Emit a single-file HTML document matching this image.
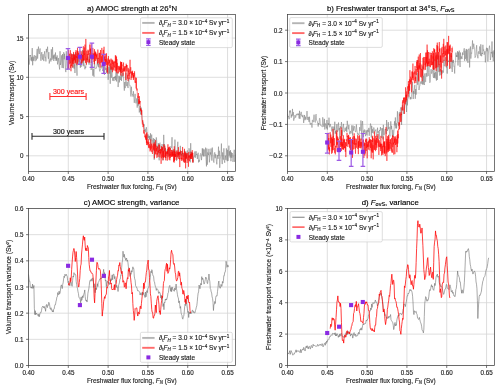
<!DOCTYPE html><html><head><meta charset="utf-8"><style>html,body{margin:0;padding:0;background:#fff;width:500px;height:389px;overflow:hidden} svg{will-change:transform}</style></head><body><svg width="500" height="389" viewBox="0 0 500 389" style="display:block;font-family:'Liberation Sans', sans-serif" stroke-linecap="butt">
<style>text{stroke-width:0.14}</style>
<rect width="500" height="389" fill="#fff"/>
<path d="M28.50 14.5V171.5 M68.31 14.5V171.5 M108.12 14.5V171.5 M147.92 14.5V171.5 M187.73 14.5V171.5 M227.54 14.5V171.5 M28.5 155.80H235.5 M28.5 116.55H235.5 M28.5 77.30H235.5 M28.5 38.05H235.5" stroke="#d6d6d6" stroke-width="0.8" fill="none"/>
<path d="M287.50 14.5V171.5 M327.31 14.5V171.5 M367.12 14.5V171.5 M406.92 14.5V171.5 M446.73 14.5V171.5 M486.54 14.5V171.5 M287.5 155.80H494.5 M287.5 124.40H494.5 M287.5 93.00H494.5 M287.5 61.60H494.5 M287.5 30.20H494.5" stroke="#d6d6d6" stroke-width="0.8" fill="none"/>
<path d="M28.50 208.5V365.5 M68.31 208.5V365.5 M108.12 208.5V365.5 M147.92 208.5V365.5 M187.73 208.5V365.5 M227.54 208.5V365.5 M28.5 365.50H235.5 M28.5 339.33H235.5 M28.5 313.17H235.5 M28.5 287.00H235.5 M28.5 260.83H235.5 M28.5 234.67H235.5 M28.5 208.50H235.5" stroke="#d6d6d6" stroke-width="0.8" fill="none"/>
<path d="M287.50 208.5V365.5 M327.31 208.5V365.5 M367.12 208.5V365.5 M406.92 208.5V365.5 M446.73 208.5V365.5 M486.54 208.5V365.5 M287.5 365.50H494.5 M287.5 334.10H494.5 M287.5 302.70H494.5 M287.5 271.30H494.5 M287.5 239.90H494.5 M287.5 208.50H494.5" stroke="#d6d6d6" stroke-width="0.8" fill="none"/>
<defs><clipPath id="clipa"><rect x="28.5" y="14.5" width="207.0" height="157.0"/></clipPath><clipPath id="clipb"><rect x="287.5" y="14.5" width="207.0" height="157.0"/></clipPath><clipPath id="clipc"><rect x="28.5" y="208.5" width="207.0" height="157.0"/></clipPath><clipPath id="clipd"><rect x="287.5" y="208.5" width="207.0" height="157.0"/></clipPath></defs>
<path clip-path="url(#clipa)" d="M28.50 58.17 28.91 64.74 29.33 64.01 29.74 55.25 30.16 56.25 30.57 55.03 30.99 60.49 31.40 57.28 31.82 61.27 32.23 48.09 32.65 65.31 33.06 56.82 33.48 60.70 33.89 56.49 34.31 55.19 34.72 59.42 35.14 61.20 35.55 55.90 35.97 56.09 36.38 60.32 36.80 52.28 37.21 48.90 37.63 58.65 38.04 53.10 38.46 46.59 38.87 52.22 39.29 53.95 39.70 50.12 40.12 48.50 40.53 56.37 40.94 60.78 41.36 54.84 41.77 52.11 42.19 57.93 42.60 59.61 43.02 54.23 43.43 58.59 43.85 61.14 44.26 54.53 44.68 51.27 45.09 57.34 45.51 56.88 45.92 61.44 46.34 48.91 46.75 52.26 47.17 51.39 47.58 46.69 48.00 56.62 48.41 58.82 48.83 52.14 49.24 63.52 49.66 60.58 50.07 59.61 50.49 58.47 50.90 61.50 51.32 49.31 51.73 59.81 52.15 59.81 52.56 47.12 52.97 58.57 53.39 55.41 53.80 61.04 54.22 54.51 54.63 56.85 55.05 58.89 55.46 52.51 55.88 60.76 56.29 57.17 56.71 60.66 57.12 55.37 57.54 64.38 57.95 62.00 58.37 57.95 58.78 62.63 59.20 66.31 59.61 69.48 60.03 51.22 60.44 64.97 60.86 62.90 61.27 60.07 61.69 55.28 62.10 67.91 62.52 54.06 62.93 64.12 63.35 68.16 63.76 52.20 64.18 59.34 64.59 53.80 65.01 62.34 65.42 69.33 65.83 72.13 66.25 51.22 66.66 57.84 67.08 64.87 67.49 69.69 67.91 63.32 68.32 56.92 68.74 62.68 69.15 60.98 69.57 59.97 69.98 57.08 70.40 63.27 70.81 62.86 71.23 60.68 71.64 59.99 72.06 54.17 72.47 58.59 72.89 67.92 73.30 60.26 73.72 53.42 74.13 68.70 74.55 64.30 74.96 73.00 75.38 61.78 75.79 58.92 76.21 53.52 76.62 68.79 77.04 75.66 77.45 57.04 77.86 58.02 78.28 64.88 78.69 57.06 79.11 60.17 79.52 59.75 79.94 62.76 80.35 67.75 80.77 61.87 81.18 66.83 81.60 59.49 82.01 63.63 82.43 50.09 82.84 53.90 83.26 66.28 83.67 58.68 84.09 65.14 84.50 64.95 84.92 69.27 85.33 66.58 85.75 67.84 86.16 61.77 86.58 58.68 86.99 58.64 87.41 60.12 87.82 56.73 88.24 60.07 88.65 62.71 89.07 64.74 89.48 61.63 89.89 53.05 90.31 63.37 90.72 65.15 91.14 70.01 91.55 67.36 91.97 60.78 92.38 60.48 92.80 75.66 93.21 68.90 93.63 74.95 94.04 76.73 94.46 60.65 94.87 67.41 95.29 67.95 95.70 68.65 96.12 68.69 96.53 66.96 96.95 66.94 97.36 57.86 97.78 65.35 98.19 62.29 98.61 67.23 99.02 64.10 99.44 70.21 99.85 71.46 100.27 68.88 100.68 69.21 101.10 68.28 101.51 65.60 101.92 67.45 102.34 65.92 102.75 71.05 103.17 69.30 103.58 72.69 104.00 62.54 104.41 74.93 104.83 66.22 105.24 66.67 105.66 69.89 106.07 68.19 106.49 73.12 106.90 68.71 107.32 66.32 107.73 67.83 108.15 79.81 108.56 73.23 108.98 66.97 109.39 73.62 109.81 65.46 110.22 83.77 110.64 66.10 111.05 77.11 111.47 77.66 111.88 67.14 112.30 76.76 112.71 80.71 113.13 78.07 113.54 77.17 113.95 81.07 114.37 77.05 114.78 78.19 115.20 75.92 115.61 80.18 116.03 71.99 116.44 81.45 116.86 74.74 117.27 71.83 117.69 79.79 118.10 87.06 118.52 83.37 118.93 75.73 119.35 82.38 119.76 76.47 120.18 78.46 120.59 79.87 121.01 67.41 121.42 80.96 121.84 74.79 122.25 76.82 122.67 73.00 123.08 73.06 123.50 76.36 123.91 85.95 124.33 90.64 124.74 82.03 125.16 88.17 125.57 81.33 125.98 72.97 126.40 84.18 126.81 86.15 127.23 81.99 127.64 86.22 128.06 88.05 128.47 80.97 128.89 78.19 129.30 85.15 129.72 85.62 130.13 85.31 130.55 92.54 130.96 96.50 131.38 86.74 131.79 92.89 132.21 94.77 132.62 94.47 133.04 96.69 133.45 91.23 133.87 96.84 134.28 102.84 134.70 98.59 135.11 93.87 135.53 99.72 135.94 103.34 136.36 100.93 136.77 98.36 137.19 107.64 137.60 97.81 138.02 105.72 138.43 104.76 138.84 101.57 139.26 112.45 139.67 110.52 140.09 106.09 140.50 114.46 140.92 111.90 141.33 107.63 141.75 113.84 142.16 119.02 142.58 121.93 142.99 121.56 143.41 122.56 143.82 125.68 144.24 124.49 144.65 131.36 145.07 128.75 145.48 130.35 145.90 132.35 146.31 127.16 146.73 129.55 147.14 139.31 147.56 135.70 147.97 134.33 148.39 137.81 148.80 135.60 149.22 139.36 149.63 136.06 150.05 140.34 150.46 133.28 150.87 145.65 151.29 138.55 151.70 134.57 152.12 140.70 152.53 140.56 152.95 143.25 153.36 138.19 153.78 145.29 154.19 159.78 154.61 138.96 155.02 146.49 155.44 143.80 155.85 146.20 156.27 137.38 156.68 140.48 157.10 147.93 157.51 145.83 157.93 153.70 158.34 143.07 158.76 147.32 159.17 160.33 159.59 143.22 160.00 142.71 160.42 146.96 160.83 147.04 161.25 151.39 161.66 148.11 162.08 144.02 162.49 148.75 162.90 160.43 163.32 154.05 163.73 134.87 164.15 147.57 164.56 144.20 164.98 151.46 165.39 147.79 165.81 157.96 166.22 153.31 166.64 153.24 167.05 150.01 167.47 149.05 167.88 150.99 168.30 155.68 168.71 152.17 169.13 148.06 169.54 155.96 169.96 150.91 170.37 149.74 170.79 146.45 171.20 147.65 171.62 147.44 172.03 137.23 172.45 155.61 172.86 153.57 173.28 149.96 173.69 156.12 174.11 153.33 174.52 153.14 174.93 139.60 175.35 150.49 175.76 154.29 176.18 159.59 176.59 160.82 177.01 158.96 177.42 146.64 177.84 141.78 178.25 155.22 178.67 152.73 179.08 157.36 179.50 152.24 179.91 154.03 180.33 145.82 180.74 155.27 181.16 151.03 181.57 154.93 181.99 155.52 182.40 152.80 182.82 154.96 183.23 153.43 183.65 157.23 184.06 156.05 184.48 151.04 184.89 150.91 185.31 162.25 185.72 153.39 186.14 158.74 186.55 155.91 186.96 151.34 187.38 150.51 187.79 154.78 188.21 155.51 188.62 157.30 189.04 148.25 189.45 151.57 189.87 154.06 190.28 162.35 190.70 143.20 191.11 156.84 191.53 152.15 191.94 156.93 192.36 152.51 192.77 156.74 193.19 162.61 193.60 156.76 194.02 157.17 194.43 156.90 194.85 151.46 195.26 157.78 195.68 154.14 196.09 151.23 196.51 155.02 196.92 154.12 197.34 158.93 197.75 155.07 198.17 152.72 198.58 162.43 198.99 160.18 199.41 161.57 199.82 158.37 200.24 154.89 200.65 153.40 201.07 154.11 201.48 160.13 201.90 156.07 202.31 148.30 202.73 155.38 203.14 148.67 203.56 156.43 203.97 149.75 204.39 149.48 204.80 156.28 205.22 155.34 205.63 147.60 206.05 159.44 206.46 166.40 206.88 148.55 207.29 164.77 207.71 152.49 208.12 153.46 208.54 155.04 208.95 148.84 209.37 162.35 209.78 158.41 210.20 152.31 210.61 154.64 211.03 148.54 211.44 154.29 211.85 160.61 212.27 147.56 212.68 153.85 213.10 156.72 213.51 161.16 213.93 162.65 214.34 153.75 214.76 152.35 215.17 158.22 215.59 154.21 216.00 154.47 216.42 161.33 216.83 164.34 217.25 157.31 217.66 155.05 218.08 158.82 218.49 146.67 218.91 155.91 219.32 150.75 219.74 167.82 220.15 159.56 220.57 156.70 220.98 155.04 221.40 143.54 221.81 159.53 222.23 164.08 222.64 152.39 223.06 159.39 223.47 159.58 223.88 148.32 224.30 160.64 224.71 162.73 225.13 157.13 225.54 155.69 225.96 159.91 226.37 148.34 226.79 156.46 227.20 161.24 227.62 149.82 228.03 160.94 228.45 153.92 228.86 145.64 229.28 155.47 229.69 151.16 230.11 157.59 230.52 150.16 230.94 161.24 231.35 152.32 231.77 157.78 232.18 153.04 232.60 154.39 233.01 161.95 233.43 157.07 233.84 154.03 234.26 149.75 234.67 161.80 235.09 159.66 235.50 154.37" stroke="#787878" stroke-width="0.5" fill="none" stroke-linejoin="round"/>
<path clip-path="url(#clipa)" d="M68.31 61.97 68.47 68.31 68.64 50.13 68.81 69.18 68.98 59.59 69.14 55.40 69.31 55.33 69.48 53.74 69.64 58.42 69.81 64.18 69.98 62.76 70.14 63.00 70.31 50.12 70.48 50.75 70.64 67.89 70.81 64.62 70.98 71.25 71.14 65.84 71.31 53.50 71.48 66.15 71.65 62.49 71.81 60.16 71.98 54.42 72.15 58.89 72.31 58.02 72.48 63.68 72.65 59.41 72.81 67.39 72.98 54.36 73.15 61.16 73.31 61.26 73.48 53.71 73.65 51.92 73.81 63.94 73.98 61.16 74.15 57.37 74.32 60.38 74.48 54.44 74.65 59.42 74.82 54.73 74.98 59.04 75.15 63.38 75.32 56.04 75.48 62.53 75.65 52.12 75.82 56.17 75.98 50.20 76.15 57.10 76.32 58.04 76.49 56.47 76.65 56.03 76.82 64.83 76.99 65.24 77.15 50.67 77.32 63.76 77.49 47.78 77.65 53.16 77.82 56.20 77.99 57.71 78.15 51.29 78.32 53.03 78.49 57.38 78.65 53.09 78.82 53.33 78.99 60.47 79.16 61.88 79.32 56.37 79.49 56.75 79.66 56.50 79.82 54.05 79.99 53.69 80.16 50.75 80.32 59.97 80.49 55.89 80.66 55.55 80.82 57.36 80.99 59.12 81.16 63.97 81.32 54.60 81.49 53.85 81.66 57.11 81.83 51.30 81.99 62.90 82.16 60.95 82.33 59.62 82.49 55.09 82.66 59.77 82.83 61.43 82.99 58.35 83.16 54.01 83.33 46.23 83.49 60.66 83.66 53.46 83.83 50.71 83.99 60.20 84.16 57.11 84.33 47.40 84.50 54.61 84.66 53.62 84.83 60.51 85.00 44.58 85.16 52.90 85.33 54.27 85.50 62.85 85.66 49.11 85.83 38.91 86.00 47.49 86.16 56.56 86.33 59.59 86.50 64.68 86.66 57.37 86.83 50.77 87.00 60.06 87.17 55.16 87.33 54.13 87.50 55.35 87.67 62.28 87.83 50.33 88.00 49.67 88.17 54.95 88.33 54.97 88.50 50.87 88.67 50.53 88.83 57.46 89.00 62.76 89.17 59.34 89.34 59.20 89.50 62.30 89.67 44.52 89.84 47.18 90.00 51.62 90.17 48.94 90.34 50.09 90.50 55.93 90.67 48.50 90.84 53.14 91.00 44.36 91.17 50.26 91.34 63.03 91.50 52.66 91.67 57.45 91.84 59.58 92.01 53.00 92.17 58.90 92.34 56.91 92.51 59.59 92.67 52.27 92.84 47.86 93.01 50.18 93.17 52.77 93.34 58.78 93.51 54.73 93.67 53.67 93.84 54.90 94.01 61.95 94.17 52.75 94.34 64.25 94.51 49.20 94.68 52.71 94.84 60.69 95.01 58.85 95.18 51.40 95.34 55.61 95.51 52.41 95.68 61.09 95.84 59.47 96.01 52.68 96.18 58.89 96.34 54.79 96.51 56.51 96.68 57.36 96.84 54.00 97.01 59.54 97.18 59.84 97.35 59.75 97.51 63.58 97.68 56.11 97.85 49.55 98.01 55.12 98.18 59.01 98.35 58.13 98.51 61.29 98.68 62.64 98.85 57.66 99.01 57.80 99.18 53.08 99.35 64.29 99.52 57.26 99.68 52.85 99.85 52.78 100.02 56.73 100.18 67.66 100.35 63.45 100.52 50.01 100.68 58.73 100.85 60.96 101.02 63.04 101.18 61.59 101.35 56.31 101.52 62.16 101.68 56.98 101.85 47.88 102.02 56.35 102.19 56.57 102.35 65.60 102.52 66.26 102.69 54.93 102.85 61.66 103.02 61.30 103.19 53.12 103.35 49.88 103.52 60.61 103.69 61.95 103.85 58.09 104.02 46.76 104.19 61.35 104.35 58.49 104.52 56.92 104.69 60.07 104.86 55.83 105.02 65.02 105.19 62.13 105.36 59.14 105.52 63.72 105.69 62.10 105.86 54.20 106.02 61.64 106.19 60.03 106.36 53.23 106.52 59.12 106.69 64.95 106.86 59.44 107.02 70.32 107.19 71.93 107.36 61.31 107.53 65.96 107.69 73.68 107.86 61.38 108.03 58.43 108.19 61.04 108.36 56.05 108.53 56.26 108.69 64.58 108.86 61.34 109.03 64.91 109.19 66.26 109.36 59.71 109.53 62.78 109.69 62.46 109.86 60.42 110.03 59.61 110.20 65.74 110.36 63.41 110.53 65.96 110.70 69.53 110.86 69.67 111.03 58.58 111.20 60.00 111.36 63.20 111.53 65.26 111.70 69.58 111.86 59.72 112.03 62.53 112.20 66.17 112.37 71.35 112.53 72.20 112.70 59.84 112.87 64.04 113.03 61.02 113.20 69.68 113.37 67.67 113.53 63.56 113.70 62.31 113.87 67.07 114.03 70.68 114.20 61.71 114.37 64.08 114.53 66.40 114.70 65.97 114.87 67.69 115.04 60.86 115.20 62.98 115.37 55.28 115.54 66.39 115.70 71.63 115.87 55.62 116.04 62.97 116.20 70.84 116.37 65.54 116.54 56.62 116.70 72.31 116.87 59.09 117.04 73.40 117.20 63.46 117.37 62.87 117.54 66.64 117.71 66.43 117.87 69.63 118.04 69.16 118.21 65.89 118.37 73.38 118.54 70.32 118.71 68.13 118.87 67.46 119.04 66.33 119.21 66.45 119.37 70.23 119.54 69.30 119.71 67.14 119.87 72.09 120.04 65.69 120.21 69.23 120.38 71.39 120.54 61.51 120.71 65.82 120.88 75.54 121.04 62.41 121.21 73.01 121.38 61.98 121.54 69.34 121.71 62.03 121.88 64.30 122.04 65.54 122.21 64.71 122.38 72.50 122.55 71.65 122.71 71.87 122.88 68.54 123.05 75.73 123.21 72.74 123.38 69.28 123.55 62.52 123.71 71.13 123.88 71.00 124.05 68.28 124.21 71.36 124.38 71.67 124.55 66.44 124.71 70.73 124.88 69.68 125.05 69.57 125.22 66.47 125.38 66.00 125.55 68.97 125.72 75.53 125.88 80.02 126.05 66.94 126.22 63.71 126.38 67.32 126.55 65.03 126.72 67.19 126.88 71.28 127.05 65.01 127.22 72.55 127.38 73.55 127.55 77.19 127.72 78.77 127.89 74.90 128.05 81.17 128.22 67.88 128.39 71.76 128.55 71.37 128.72 72.78 128.89 75.72 129.05 69.34 129.22 79.27 129.39 77.28 129.55 72.95 129.72 73.64 129.89 66.86 130.05 59.79 130.22 71.35 130.39 73.35 130.56 73.04 130.72 67.21 130.89 70.26 131.06 79.93 131.22 75.57 131.39 75.17 131.56 71.46 131.72 75.81 131.89 78.03 132.06 76.06 132.22 71.88 132.39 74.75 132.56 70.78 132.72 73.17 132.89 76.59 133.06 72.99 133.23 74.31 133.39 80.03 133.56 75.11 133.73 78.30 133.89 75.29 134.06 73.08 134.23 76.77 134.39 75.96 134.56 71.32 134.73 74.01 134.89 76.61 135.06 82.75 135.23 77.47 135.40 79.92 135.56 82.73 135.73 82.56 135.90 81.52 136.06 88.42 136.23 88.18 136.40 77.76 136.56 88.72 136.73 88.31 136.90 90.45 137.06 88.63 137.23 91.69 137.40 95.98 137.56 96.36 137.73 97.61 137.90 96.43 138.07 97.06 138.23 98.13 138.40 93.01 138.57 104.12 138.73 99.08 138.90 100.36 139.07 100.76 139.23 102.83 139.40 96.13 139.57 104.14 139.73 100.71 139.90 102.57 140.07 101.00 140.23 102.44 140.40 110.32 140.57 108.14 140.74 110.31 140.90 111.13 141.07 109.21 141.24 111.58 141.40 110.96 141.57 114.81 141.74 110.15 141.90 116.66 142.07 121.60 142.24 123.55 142.40 124.43 142.57 123.56 142.74 120.15 142.90 126.92 143.07 126.83 143.24 127.14 143.41 123.80 143.57 129.54 143.74 133.41 143.91 132.25 144.07 130.19 144.24 133.33 144.41 132.55 144.57 133.91 144.74 136.73 144.91 136.07 145.07 136.10 145.24 137.86 145.41 134.77 145.58 134.56 145.74 139.30 145.91 136.40 146.08 140.16 146.24 133.25 146.41 142.78 146.58 139.14 146.74 144.94 146.91 132.33 147.08 135.09 147.24 145.20 147.41 141.55 147.58 142.36 147.74 142.10 147.91 142.54 148.08 144.12 148.25 139.27 148.41 142.41 148.58 147.73 148.75 144.24 148.91 141.79 149.08 144.59 149.25 148.25 149.41 144.19 149.58 144.58 149.75 147.31 149.91 148.94 150.08 151.48 150.25 145.72 150.41 147.61 150.58 150.34 150.75 139.39 150.92 147.22 151.08 148.56 151.25 146.60 151.42 143.73 151.58 149.44 151.75 152.17 151.92 147.05 152.08 145.60 152.25 146.78 152.42 153.95 152.58 152.83 152.75 148.17 152.92 143.76 153.08 143.20 153.25 147.08 153.42 147.22 153.59 149.66 153.75 144.22 153.92 148.34 154.09 151.08 154.25 142.35 154.42 158.34 154.59 151.61 154.75 151.53 154.92 144.36 155.09 145.56 155.25 153.79 155.42 153.35 155.59 140.18 155.75 154.57 155.92 152.95 156.09 152.61 156.26 145.78 156.42 151.32 156.59 147.95 156.76 152.69 156.92 157.87 157.09 153.17 157.26 154.74 157.42 149.52 157.59 146.77 157.76 150.98 157.92 155.15 158.09 156.95 158.26 150.93 158.43 152.26 158.59 149.74 158.76 144.55 158.93 151.83 159.09 152.95 159.26 149.99 159.43 151.03 159.59 144.61 159.76 152.10 159.93 157.47 160.09 151.91 160.26 154.41 160.43 153.83 160.59 149.06 160.76 152.95 160.93 148.87 161.10 163.82 161.26 153.02 161.43 147.88 161.60 146.13 161.76 158.24 161.93 154.77 162.10 153.93 162.26 146.93 162.43 150.15 162.60 147.58 162.76 156.84 162.93 150.39 163.10 160.20 163.26 154.61 163.43 151.28 163.60 157.95 163.77 144.24 163.93 149.33 164.10 151.07 164.27 156.97 164.43 157.03 164.60 154.19 164.77 145.70 164.93 150.71 165.10 148.44 165.27 157.86 165.43 151.14 165.60 155.28 165.77 160.37 165.93 152.69 166.10 155.81 166.27 151.51 166.44 153.26 166.60 153.27 166.77 153.19 166.94 153.43 167.10 151.62 167.27 160.68 167.44 150.65 167.60 154.26 167.77 152.11 167.94 144.29 168.10 157.23 168.27 154.30 168.44 147.91 168.61 150.52 168.77 147.00 168.94 154.62 169.11 159.74 169.27 158.40 169.44 148.38 169.61 146.69 169.77 155.71 169.94 160.36 170.11 153.86 170.27 157.88 170.44 148.14 170.61 153.30 170.77 155.54 170.94 152.16 171.11 152.93 171.28 156.60 171.44 151.40 171.61 149.96 171.78 156.94 171.94 154.96 172.11 150.04 172.28 155.78 172.44 151.84 172.61 156.67 172.78 154.11 172.94 153.03 173.11 151.12 173.28 155.05 173.44 154.09 173.61 161.87 173.78 154.16 173.95 148.98 174.11 162.68 174.28 146.28 174.45 161.07 174.61 151.05 174.78 160.09 174.95 153.83 175.11 156.77 175.28 154.75 175.45 154.22 175.61 156.77 175.78 152.15 175.95 156.66 176.11 150.46 176.28 151.89 176.45 152.81 176.62 154.48 176.78 159.77 176.95 151.59 177.12 151.53 177.28 150.50 177.45 153.41 177.62 157.31 177.78 152.11 177.95 153.95 178.12 152.80 178.28 155.52 178.45 147.16 178.62 157.63 178.78 158.98 178.95 151.97 179.12 155.07 179.29 151.75 179.45 159.42 179.62 157.98 179.79 167.08 179.95 154.69 180.12 152.04 180.29 153.63 180.45 150.53 180.62 156.40 180.79 156.81 180.95 159.28 181.12 157.21 181.29 153.95 181.46 160.79 181.62 157.95 181.79 158.96 181.96 150.96 182.12 152.32 182.29 153.10 182.46 154.11 182.62 146.95 182.79 160.51 182.96 154.87 183.12 159.12 183.29 158.83 183.46 161.73 183.62 158.06 183.79 157.28 183.96 152.84 184.13 156.31 184.29 162.85 184.46 148.80 184.63 153.04 184.79 156.97 184.96 162.35 185.13 151.51 185.29 154.12 185.46 156.55 185.63 168.37 185.79 152.50 185.96 155.36 186.13 158.98 186.29 153.20 186.46 157.57 186.63 157.70 186.80 154.62 186.96 157.48 187.13 162.97 187.30 156.60 187.46 154.41 187.63 153.14 187.80 157.06 187.96 160.30 188.13 156.75 188.30 157.41 188.46 166.77 188.63 153.14 188.80 151.88 188.96 157.30 189.13 155.35 189.30 158.51 189.47 161.18 189.63 157.66 189.80 155.45 189.97 158.32 190.13 158.18 190.30 155.89 190.47 153.97 190.63 158.94 190.80 155.47 190.97 151.70 191.13 159.01 191.30 154.21 191.47 154.13 191.64 158.89 191.80 153.16 191.97 155.59 192.14 152.37 192.30 150.20 192.47 157.47 192.64 162.52 192.80 152.82 192.97 160.95 193.14 160.57 193.30 162.33" stroke="#ff0000" stroke-width="0.5" fill="none" stroke-linejoin="round"/>
<path clip-path="url(#clipb)" d="M287.50 113.98 287.91 117.22 288.33 116.38 288.74 116.41 289.16 119.20 289.57 110.68 289.99 112.51 290.40 110.45 290.82 114.24 291.23 117.72 291.65 114.64 292.06 116.32 292.48 108.90 292.89 115.38 293.31 112.15 293.72 120.65 294.14 117.94 294.55 118.21 294.97 115.10 295.38 117.30 295.80 117.52 296.21 114.39 296.63 113.97 297.04 115.27 297.46 113.75 297.87 113.85 298.29 114.93 298.70 113.54 299.12 118.50 299.53 110.82 299.94 118.85 300.36 114.14 300.77 114.47 301.19 111.86 301.60 115.94 302.02 115.66 302.43 117.20 302.85 114.84 303.26 117.02 303.68 122.93 304.09 118.23 304.51 114.97 304.92 120.24 305.34 116.68 305.75 119.31 306.17 119.53 306.58 116.23 307.00 111.05 307.41 116.67 307.83 119.95 308.24 116.85 308.66 119.86 309.07 121.92 309.49 116.72 309.90 123.13 310.32 124.67 310.73 122.91 311.15 123.38 311.56 123.30 311.97 127.60 312.39 120.35 312.80 119.85 313.22 122.16 313.63 116.86 314.05 114.66 314.46 117.24 314.88 121.95 315.29 122.47 315.71 115.27 316.12 114.14 316.54 120.07 316.95 120.73 317.37 121.43 317.78 124.28 318.20 126.55 318.61 123.02 319.03 124.64 319.44 118.42 319.86 118.29 320.27 123.79 320.69 125.60 321.10 126.02 321.52 125.70 321.93 126.62 322.35 126.91 322.76 117.29 323.18 121.37 323.59 126.13 324.01 126.86 324.42 118.89 324.83 129.48 325.25 123.38 325.66 124.32 326.08 126.43 326.49 128.43 326.91 120.01 327.32 129.67 327.74 126.22 328.15 123.00 328.57 125.10 328.98 117.64 329.40 123.88 329.81 127.33 330.23 123.90 330.64 125.57 331.06 126.43 331.47 127.35 331.89 131.39 332.30 127.33 332.72 126.53 333.13 129.88 333.55 136.22 333.96 126.60 334.38 130.11 334.79 121.72 335.21 133.58 335.62 130.86 336.04 133.64 336.45 128.05 336.86 124.11 337.28 131.99 337.69 131.50 338.11 124.96 338.52 122.54 338.94 130.42 339.35 127.94 339.77 139.35 340.18 126.23 340.60 126.62 341.01 128.38 341.43 122.07 341.84 125.29 342.26 135.73 342.67 128.49 343.09 126.58 343.50 123.90 343.92 131.57 344.33 131.94 344.75 130.34 345.16 127.72 345.58 130.64 345.99 131.00 346.41 126.66 346.82 132.10 347.24 120.81 347.65 124.28 348.07 128.41 348.48 129.27 348.89 124.93 349.31 131.19 349.72 134.27 350.14 131.80 350.55 130.91 350.97 133.48 351.38 131.76 351.80 125.34 352.21 129.32 352.63 135.63 353.04 125.50 353.46 130.58 353.87 128.73 354.29 126.64 354.70 126.21 355.12 130.93 355.53 131.84 355.95 131.82 356.36 124.43 356.78 129.32 357.19 132.01 357.61 134.56 358.02 133.41 358.44 134.09 358.85 135.23 359.27 134.08 359.68 127.13 360.10 130.85 360.51 127.58 360.92 120.48 361.34 123.46 361.75 139.54 362.17 125.87 362.58 121.07 363.00 128.16 363.41 137.17 363.83 130.48 364.24 132.43 364.66 129.53 365.07 130.34 365.49 136.15 365.90 134.14 366.32 130.36 366.73 134.57 367.15 135.37 367.56 129.81 367.98 131.92 368.39 131.87 368.81 127.89 369.22 135.76 369.64 130.07 370.05 128.12 370.47 123.54 370.88 125.32 371.30 137.45 371.71 125.88 372.13 132.71 372.54 129.25 372.95 133.09 373.37 133.49 373.78 127.49 374.20 129.61 374.61 131.33 375.03 131.40 375.44 130.78 375.86 129.54 376.27 133.69 376.69 136.71 377.10 133.32 377.52 127.70 377.93 132.70 378.35 131.24 378.76 133.01 379.18 139.12 379.59 130.05 380.01 130.95 380.42 127.05 380.84 129.65 381.25 128.38 381.67 137.95 382.08 132.17 382.50 128.25 382.91 139.33 383.33 124.82 383.74 134.52 384.16 135.18 384.57 133.18 384.98 129.42 385.40 129.97 385.81 128.98 386.23 133.99 386.64 120.03 387.06 128.12 387.47 131.06 387.89 127.74 388.30 122.15 388.72 129.18 389.13 126.85 389.55 133.80 389.96 136.46 390.38 130.45 390.79 121.35 391.21 129.18 391.62 125.82 392.04 133.05 392.45 136.90 392.87 129.83 393.28 136.98 393.70 133.82 394.11 129.27 394.53 121.26 394.94 125.46 395.36 117.44 395.77 128.33 396.19 123.28 396.60 128.45 397.02 122.59 397.43 111.25 397.84 122.79 398.26 123.39 398.67 126.15 399.09 112.74 399.50 112.19 399.92 116.18 400.33 109.86 400.75 107.37 401.16 107.80 401.58 124.87 401.99 108.17 402.41 105.32 402.82 107.16 403.24 108.43 403.65 113.89 404.07 111.27 404.48 109.59 404.90 104.96 405.31 104.74 405.73 100.00 406.14 94.87 406.56 112.01 406.97 98.65 407.39 105.36 407.80 97.85 408.22 98.25 408.63 97.17 409.05 90.14 409.46 96.06 409.87 97.68 410.29 99.36 410.70 97.03 411.12 99.17 411.53 94.79 411.95 92.62 412.36 81.73 412.78 88.62 413.19 99.03 413.61 90.88 414.02 93.85 414.44 87.90 414.85 84.84 415.27 98.77 415.68 89.14 416.10 94.66 416.51 88.88 416.93 83.83 417.34 72.68 417.76 84.81 418.17 75.43 418.59 71.48 419.00 90.02 419.42 86.84 419.83 86.05 420.25 82.43 420.66 81.60 421.08 83.77 421.49 81.93 421.90 81.11 422.32 84.44 422.73 66.42 423.15 84.56 423.56 75.76 423.98 83.62 424.39 85.03 424.81 73.49 425.22 82.17 425.64 81.73 426.05 73.04 426.47 73.61 426.88 76.78 427.30 63.39 427.71 72.89 428.13 76.08 428.54 72.37 428.96 65.77 429.37 72.30 429.79 82.74 430.20 81.50 430.62 73.26 431.03 69.25 431.45 73.47 431.86 73.47 432.28 69.42 432.69 71.15 433.11 76.33 433.52 77.89 433.93 58.83 434.35 77.78 434.76 72.89 435.18 78.40 435.59 71.66 436.01 74.06 436.42 80.62 436.84 54.55 437.25 79.99 437.67 71.95 438.08 60.45 438.50 55.51 438.91 72.10 439.33 64.37 439.74 75.64 440.16 71.02 440.57 68.87 440.99 75.06 441.40 70.36 441.82 73.29 442.23 73.54 442.65 70.33 443.06 72.66 443.48 72.33 443.89 59.79 444.31 65.67 444.72 66.21 445.14 64.43 445.55 57.24 445.96 62.70 446.38 67.53 446.79 66.37 447.21 73.62 447.62 61.18 448.04 61.85 448.45 60.73 448.87 61.86 449.28 59.90 449.70 52.35 450.11 64.66 450.53 68.01 450.94 68.45 451.36 55.62 451.77 60.51 452.19 71.99 452.60 60.59 453.02 62.99 453.43 59.92 453.85 66.34 454.26 65.92 454.68 73.51 455.09 62.82 455.51 62.33 455.92 52.58 456.34 56.98 456.75 55.09 457.17 57.03 457.58 51.17 457.99 65.51 458.41 52.23 458.82 59.66 459.24 50.62 459.65 59.68 460.07 67.03 460.48 52.53 460.90 59.16 461.31 56.46 461.73 58.28 462.14 58.86 462.56 52.54 462.97 54.97 463.39 52.39 463.80 50.82 464.22 48.27 464.63 60.78 465.05 50.71 465.46 58.77 465.88 58.05 466.29 48.94 466.71 60.75 467.12 49.57 467.54 58.15 467.95 62.90 468.37 50.16 468.78 48.83 469.20 48.67 469.61 67.48 470.03 51.80 470.44 46.53 470.85 58.58 471.27 52.70 471.68 53.45 472.10 47.72 472.51 40.44 472.93 49.10 473.34 47.16 473.76 43.70 474.17 46.74 474.59 47.46 475.00 57.66 475.42 57.00 475.83 55.80 476.25 49.55 476.66 45.20 477.08 54.27 477.49 55.14 477.91 58.26 478.32 52.11 478.74 51.42 479.15 53.93 479.57 46.55 479.98 47.19 480.40 55.65 480.81 44.33 481.23 51.22 481.64 56.24 482.06 52.94 482.47 54.01 482.88 44.81 483.30 50.57 483.71 49.62 484.13 54.73 484.54 53.57 484.96 51.19 485.37 62.39 485.79 54.43 486.20 49.59 486.62 47.75 487.03 51.28 487.45 48.19 487.86 61.43 488.28 55.17 488.69 50.03 489.11 48.07 489.52 45.67 489.94 50.52 490.35 60.09 490.77 57.37 491.18 52.12 491.60 53.38 492.01 41.48 492.43 57.28 492.84 51.50 493.26 61.15 493.67 51.93 494.09 50.19 494.50 54.48" stroke="#787878" stroke-width="0.5" fill="none" stroke-linejoin="round"/>
<path clip-path="url(#clipb)" d="M327.31 133.96 327.47 135.08 327.64 134.52 327.81 138.43 327.98 150.34 328.14 132.82 328.31 147.46 328.48 149.30 328.64 140.01 328.81 138.03 328.98 144.78 329.14 149.06 329.31 154.47 329.48 147.22 329.64 151.26 329.81 139.51 329.98 137.08 330.14 132.23 330.31 135.49 330.48 140.04 330.65 143.25 330.81 134.60 330.98 146.85 331.15 141.57 331.31 138.48 331.48 137.78 331.65 153.80 331.81 143.16 331.98 137.04 332.15 136.72 332.31 152.78 332.48 138.90 332.65 149.06 332.81 150.42 332.98 128.88 333.15 150.02 333.32 141.06 333.48 136.03 333.65 139.15 333.82 145.51 333.98 144.44 334.15 144.74 334.32 138.13 334.48 149.67 334.65 150.96 334.82 152.87 334.98 148.09 335.15 153.23 335.32 154.39 335.49 146.40 335.65 147.43 335.82 145.72 335.99 145.55 336.15 147.35 336.32 132.57 336.49 140.54 336.65 145.21 336.82 130.30 336.99 134.13 337.15 151.54 337.32 136.35 337.49 139.77 337.65 144.61 337.82 139.72 337.99 137.52 338.16 139.51 338.32 140.02 338.49 139.15 338.66 143.54 338.82 151.76 338.99 144.56 339.16 151.86 339.32 146.78 339.49 147.34 339.66 145.91 339.82 140.83 339.99 144.98 340.16 144.30 340.32 136.17 340.49 146.88 340.66 145.91 340.83 144.71 340.99 139.39 341.16 127.47 341.33 151.05 341.49 142.22 341.66 130.11 341.83 146.37 341.99 138.62 342.16 146.60 342.33 142.07 342.49 149.19 342.66 144.02 342.83 144.29 342.99 143.55 343.16 149.77 343.33 135.25 343.50 149.48 343.66 146.68 343.83 139.54 344.00 142.72 344.16 140.17 344.33 143.09 344.50 148.16 344.66 138.86 344.83 147.04 345.00 148.19 345.16 146.45 345.33 151.78 345.50 142.39 345.66 146.79 345.83 157.07 346.00 142.99 346.17 142.03 346.33 142.86 346.50 146.22 346.67 139.30 346.83 141.45 347.00 132.78 347.17 136.84 347.33 137.01 347.50 136.22 347.67 140.34 347.83 146.89 348.00 140.71 348.17 135.31 348.34 144.32 348.50 143.91 348.67 134.88 348.84 143.80 349.00 136.78 349.17 139.33 349.34 138.73 349.50 147.69 349.67 138.24 349.84 141.14 350.00 144.04 350.17 148.95 350.34 149.82 350.50 137.18 350.67 149.87 350.84 144.79 351.01 149.97 351.17 149.17 351.34 140.07 351.51 143.37 351.67 141.47 351.84 145.33 352.01 152.71 352.17 143.53 352.34 139.42 352.51 157.82 352.67 137.55 352.84 143.29 353.01 143.22 353.17 136.01 353.34 147.89 353.51 149.46 353.68 142.90 353.84 143.71 354.01 142.46 354.18 133.29 354.34 144.83 354.51 136.30 354.68 137.97 354.84 145.77 355.01 148.82 355.18 138.53 355.34 150.09 355.51 153.71 355.68 144.55 355.84 143.15 356.01 144.77 356.18 141.32 356.35 138.74 356.51 147.37 356.68 147.81 356.85 140.82 357.01 141.39 357.18 140.16 357.35 139.73 357.51 138.21 357.68 135.13 357.85 148.99 358.01 141.81 358.18 144.23 358.35 154.13 358.52 141.08 358.68 147.19 358.85 136.15 359.02 140.32 359.18 147.90 359.35 142.43 359.52 135.74 359.68 135.17 359.85 145.89 360.02 138.64 360.18 147.87 360.35 145.56 360.52 142.18 360.68 143.64 360.85 148.33 361.02 144.24 361.19 138.66 361.35 145.98 361.52 142.09 361.69 142.80 361.85 147.38 362.02 146.02 362.19 149.95 362.35 143.13 362.52 141.61 362.69 142.29 362.85 146.38 363.02 139.69 363.19 142.23 363.35 139.51 363.52 139.91 363.69 143.32 363.86 158.01 364.02 142.21 364.19 145.85 364.36 144.94 364.52 143.44 364.69 144.62 364.86 155.50 365.02 143.01 365.19 153.53 365.36 148.17 365.52 139.65 365.69 140.91 365.86 141.98 366.02 138.48 366.19 151.06 366.36 146.94 366.53 147.61 366.69 138.89 366.86 147.29 367.03 141.68 367.19 158.35 367.36 144.22 367.53 146.34 367.69 147.09 367.86 142.12 368.03 142.61 368.19 142.61 368.36 149.61 368.53 140.76 368.69 143.97 368.86 146.72 369.03 142.60 369.20 137.26 369.36 138.25 369.53 142.61 369.70 139.54 369.86 150.36 370.03 145.06 370.20 144.83 370.36 139.33 370.53 147.90 370.70 142.97 370.86 139.64 371.03 141.39 371.20 158.27 371.37 141.55 371.53 140.10 371.70 151.39 371.87 149.07 372.03 143.35 372.20 152.64 372.37 136.76 372.53 142.26 372.70 135.77 372.87 152.56 373.03 145.16 373.20 159.37 373.37 147.48 373.53 147.56 373.70 138.59 373.87 138.28 374.04 142.13 374.20 149.86 374.37 138.98 374.54 131.49 374.70 149.48 374.87 149.81 375.04 139.57 375.20 147.12 375.37 150.89 375.54 151.16 375.70 135.85 375.87 144.94 376.04 140.25 376.20 149.92 376.37 145.04 376.54 137.75 376.71 145.06 376.87 147.78 377.04 135.78 377.21 136.85 377.37 140.61 377.54 142.68 377.71 141.19 377.87 134.10 378.04 135.57 378.21 144.12 378.37 146.65 378.54 139.35 378.71 145.28 378.87 154.91 379.04 143.19 379.21 141.91 379.38 140.44 379.54 147.07 379.71 145.74 379.88 145.89 380.04 142.40 380.21 146.83 380.38 146.87 380.54 143.76 380.71 151.09 380.88 135.86 381.04 148.63 381.21 143.94 381.38 149.39 381.55 155.38 381.71 144.99 381.88 143.66 382.05 144.63 382.21 152.56 382.38 153.47 382.55 145.75 382.71 148.47 382.88 154.98 383.05 147.91 383.21 136.44 383.38 140.31 383.55 142.19 383.71 147.16 383.88 141.78 384.05 152.81 384.22 142.30 384.38 153.86 384.55 141.31 384.72 152.63 384.88 146.12 385.05 153.11 385.22 156.17 385.38 155.01 385.55 151.03 385.72 140.92 385.88 140.57 386.05 127.17 386.22 153.54 386.38 152.38 386.55 151.03 386.72 138.82 386.89 160.91 387.05 141.46 387.22 150.22 387.39 136.11 387.55 141.83 387.72 152.30 387.89 151.19 388.05 139.19 388.22 144.86 388.39 151.72 388.55 134.87 388.72 149.71 388.89 136.51 389.05 148.91 389.22 143.83 389.39 150.90 389.56 142.33 389.72 143.23 389.89 143.19 390.06 139.69 390.22 143.44 390.39 139.14 390.56 141.63 390.72 148.63 390.89 142.81 391.06 150.71 391.22 148.54 391.39 149.16 391.56 137.85 391.72 146.65 391.89 152.44 392.06 149.32 392.23 151.08 392.39 152.68 392.56 135.29 392.73 147.12 392.89 146.92 393.06 142.60 393.23 136.15 393.39 144.41 393.56 142.59 393.73 154.59 393.89 150.85 394.06 140.94 394.23 137.19 394.40 138.30 394.56 142.78 394.73 138.86 394.90 154.24 395.06 136.07 395.23 142.29 395.40 143.55 395.56 144.99 395.73 137.48 395.90 141.31 396.06 143.47 396.23 144.19 396.40 139.22 396.56 140.66 396.73 143.38 396.90 152.19 397.07 135.34 397.23 143.87 397.40 147.04 397.57 130.55 397.73 143.60 397.90 142.03 398.07 134.01 398.23 137.10 398.40 138.26 398.57 129.01 398.73 129.51 398.90 122.02 399.07 122.53 399.23 124.78 399.40 122.71 399.57 129.19 399.74 119.48 399.90 113.72 400.07 122.11 400.24 121.71 400.40 118.78 400.57 115.78 400.74 112.22 400.90 112.27 401.07 121.71 401.24 117.72 401.40 113.99 401.57 114.90 401.74 110.72 401.90 107.37 402.07 108.92 402.24 110.32 402.41 102.07 402.57 102.39 402.74 100.35 402.91 105.95 403.07 110.55 403.24 100.31 403.41 100.64 403.57 97.66 403.74 102.73 403.91 98.44 404.07 98.69 404.24 97.49 404.41 113.95 404.58 101.27 404.74 97.67 404.91 98.04 405.08 104.25 405.24 104.15 405.41 99.79 405.58 87.30 405.74 102.28 405.91 102.09 406.08 99.89 406.24 97.61 406.41 94.81 406.58 100.26 406.74 91.41 406.91 98.13 407.08 89.10 407.25 88.95 407.41 87.95 407.58 86.63 407.75 86.33 407.91 92.68 408.08 96.70 408.25 83.43 408.41 81.07 408.58 93.78 408.75 84.26 408.91 87.37 409.08 86.23 409.25 90.24 409.41 79.33 409.58 90.83 409.75 88.39 409.92 70.19 410.08 81.87 410.25 80.14 410.42 84.25 410.58 81.19 410.75 76.65 410.92 78.65 411.08 82.39 411.25 80.13 411.42 78.53 411.58 92.32 411.75 81.80 411.92 71.52 412.08 78.62 412.25 79.67 412.42 71.57 412.59 78.01 412.75 72.07 412.92 63.57 413.09 78.81 413.25 80.34 413.42 80.08 413.59 75.28 413.75 72.40 413.92 77.21 414.09 78.17 414.25 80.95 414.42 83.31 414.59 79.92 414.75 71.34 414.92 74.32 415.09 65.96 415.26 78.62 415.42 77.61 415.59 81.13 415.76 76.68 415.92 83.08 416.09 69.12 416.26 75.17 416.42 71.45 416.59 71.42 416.76 61.78 416.92 67.80 417.09 60.00 417.26 69.90 417.43 67.45 417.59 72.30 417.76 60.17 417.93 67.93 418.09 69.38 418.26 56.63 418.43 80.58 418.59 73.32 418.76 65.49 418.93 81.59 419.09 78.15 419.26 54.47 419.43 67.67 419.59 65.50 419.76 69.44 419.93 63.14 420.10 67.23 420.26 69.15 420.43 53.07 420.60 69.10 420.76 76.88 420.93 68.81 421.10 75.01 421.26 77.58 421.43 69.40 421.60 69.90 421.76 69.85 421.93 64.55 422.10 81.22 422.26 69.69 422.43 70.28 422.60 72.59 422.77 75.73 422.93 57.84 423.10 59.77 423.27 66.92 423.43 69.14 423.60 58.12 423.77 56.93 423.93 70.20 424.10 69.74 424.27 63.22 424.43 63.02 424.60 60.65 424.77 57.06 424.93 58.74 425.10 65.14 425.27 62.72 425.44 69.81 425.60 55.17 425.77 52.58 425.94 66.75 426.10 57.00 426.27 60.78 426.44 62.78 426.60 54.42 426.77 52.48 426.94 63.75 427.10 44.58 427.27 65.63 427.44 50.18 427.61 66.45 427.77 63.13 427.94 62.48 428.11 64.02 428.27 61.71 428.44 51.97 428.61 65.96 428.77 61.44 428.94 63.52 429.11 59.65 429.27 58.76 429.44 66.27 429.61 66.32 429.77 61.72 429.94 52.43 430.11 54.09 430.28 53.56 430.44 67.20 430.61 63.24 430.78 60.40 430.94 58.99 431.11 55.14 431.28 65.12 431.44 53.09 431.61 54.28 431.78 65.19 431.94 63.77 432.11 59.21 432.28 51.40 432.44 51.35 432.61 65.00 432.78 61.89 432.95 69.07 433.11 56.31 433.28 58.79 433.45 53.13 433.61 69.95 433.78 48.16 433.95 63.10 434.11 69.53 434.28 52.70 434.45 49.46 434.61 52.18 434.78 49.39 434.95 60.91 435.11 57.95 435.28 52.53 435.45 56.56 435.62 68.27 435.78 56.62 435.95 55.59 436.12 70.92 436.28 52.19 436.45 54.90 436.62 67.59 436.78 58.04 436.95 45.10 437.12 51.87 437.28 42.61 437.45 53.12 437.62 59.43 437.78 46.30 437.95 67.31 438.12 65.43 438.29 62.30 438.45 52.02 438.62 57.01 438.79 60.44 438.95 63.06 439.12 65.14 439.29 42.09 439.45 51.70 439.62 48.61 439.79 54.03 439.95 57.63 440.12 71.55 440.29 55.44 440.46 62.10 440.62 56.68 440.79 55.63 440.96 67.55 441.12 48.23 441.29 60.21 441.46 69.57 441.62 78.64 441.79 51.98 441.96 49.09 442.12 46.82 442.29 52.52 442.46 55.26 442.62 55.32 442.79 62.85 442.96 53.02 443.13 57.28 443.29 43.82 443.46 50.52 443.63 53.94 443.79 38.82 443.96 55.72 444.13 60.89 444.29 55.37 444.46 56.29 444.63 54.75 444.79 46.58 444.96 55.03 445.13 50.83 445.29 55.29 445.46 55.11 445.63 55.40 445.80 45.50 445.96 54.11 446.13 66.50 446.30 60.89 446.46 52.82 446.63 49.35 446.80 61.15 446.96 54.27 447.13 42.00 447.30 51.11 447.46 65.77 447.63 42.42 447.80 54.48 447.96 48.76 448.13 53.47 448.30 51.00 448.47 47.72 448.63 35.89 448.80 52.21 448.97 53.88 449.13 52.68 449.30 46.15 449.47 49.23 449.63 68.94 449.80 45.59 449.97 51.12 450.13 44.64 450.30 51.77 450.47 55.04 450.64 61.77 450.80 54.81 450.97 53.26 451.14 55.75 451.30 57.16 451.47 52.92 451.64 53.00 451.80 61.73 451.97 48.07 452.14 52.47 452.30 46.55" stroke="#ff0000" stroke-width="0.5" fill="none" stroke-linejoin="round"/>
<path clip-path="url(#clipc)" d="M28.50 274.30 28.95 278.10 29.40 281.34 29.85 281.20 30.30 286.89 30.75 287.63 31.20 288.20 31.65 286.94 32.10 288.15 32.55 284.09 33.00 288.51 33.45 287.96 33.90 285.48 34.35 308.26 34.80 314.58 35.25 310.73 35.70 314.85 36.15 313.07 36.60 313.96 37.05 313.64 37.50 314.25 37.95 315.68 38.40 316.28 38.85 313.93 39.30 316.76 39.75 314.58 40.20 312.74 40.65 312.40 41.10 312.55 41.55 310.34 42.00 307.58 42.45 306.80 42.90 306.00 43.35 307.11 43.80 307.91 44.25 306.44 44.70 308.37 45.15 308.45 45.60 311.29 46.05 305.67 46.50 304.53 46.95 307.01 47.40 307.57 47.85 304.81 48.30 305.36 48.75 302.25 49.20 303.05 49.65 304.95 50.10 308.64 50.55 309.33 51.00 307.74 51.45 310.22 51.90 309.66 52.35 311.74 52.80 310.64 53.25 312.05 53.70 309.28 54.15 308.94 54.60 306.31 55.05 304.46 55.50 304.55 55.95 301.71 56.40 300.16 56.85 297.20 57.30 296.84 57.75 292.60 58.20 294.58 58.65 294.76 59.10 291.14 59.55 293.88 60.00 293.57 60.45 290.01 60.90 286.08 61.35 284.86 61.80 286.63 62.25 288.60 62.70 284.46 63.15 282.76 63.60 278.96 64.05 276.22 64.50 277.52 64.95 274.26 65.40 275.21 65.85 275.80 66.30 274.30 66.75 275.53 67.20 276.26 67.65 280.52 68.10 282.61 68.55 281.43 69.00 284.93 69.45 284.83 69.90 285.72 70.35 283.56 70.80 281.98 71.25 282.30 71.70 285.28 72.15 286.30 72.60 280.75 73.05 276.03 73.50 277.10 73.95 272.65 74.40 273.88 74.85 274.72 75.30 274.30 75.75 274.83 76.20 281.52 76.65 284.62 77.10 287.22 77.55 288.83 78.00 291.81 78.45 293.49 78.90 297.24 79.35 297.93 79.80 298.11 80.25 299.85 80.70 302.91 81.15 296.90 81.60 300.52 82.05 299.89 82.50 295.80 82.95 297.74 83.40 296.21 83.85 294.00 84.30 292.74 84.75 289.93 85.20 296.55 85.65 299.99 86.10 300.97 86.55 299.99 87.00 302.06 87.45 298.85 87.90 293.40 88.35 291.01 88.80 289.04 89.25 285.53 89.70 281.36 90.15 280.40 90.60 281.25 91.05 279.35 91.50 278.82 91.95 281.14 92.40 278.31 92.85 277.87 93.30 281.23 93.75 287.36 94.20 283.79 94.65 291.14 95.10 292.74 95.55 289.43 96.00 287.86 96.45 289.68 96.90 286.35 97.35 283.72 97.80 286.60 98.25 282.43 98.70 281.85 99.15 280.67 99.60 279.42 100.05 279.51 100.50 277.98 100.95 278.87 101.40 278.56 101.85 277.26 102.30 276.10 102.75 275.28 103.20 272.64 103.65 269.32 104.10 274.63 104.55 272.59 105.00 276.80 105.45 281.12 105.90 280.20 106.35 286.79 106.80 282.23 107.25 281.20 107.70 282.31 108.15 282.12 108.60 283.24 109.05 282.82 109.50 284.49 109.95 281.65 110.40 281.52 110.85 278.73 111.30 280.61 111.75 277.64 112.20 274.84 112.65 279.83 113.10 274.95 113.55 274.15 114.00 274.32 114.45 278.66 114.90 276.48 115.35 280.10 115.80 283.47 116.25 287.43 116.70 285.23 117.15 287.49 117.60 287.51 118.05 291.49 118.50 285.95 118.95 284.29 119.40 282.86 119.85 279.19 120.30 278.98 120.75 274.98 121.20 275.32 121.65 267.61 122.10 262.75 122.55 260.26 123.00 251.23 123.45 255.71 123.90 257.14 124.35 254.32 124.80 258.10 125.25 257.92 125.70 260.35 126.15 259.32 126.60 258.12 127.05 261.26 127.50 260.22 127.95 262.65 128.40 266.81 128.85 269.98 129.30 271.71 129.75 270.86 130.20 276.41 130.65 273.27 131.10 274.29 131.55 270.66 132.00 272.12 132.45 269.12 132.90 266.82 133.35 268.65 133.80 268.52 134.25 276.12 134.70 278.80 135.15 280.16 135.60 285.72 136.05 286.48 136.50 287.46 136.95 287.55 137.40 290.05 137.85 290.99 138.30 290.66 138.75 291.27 139.20 291.44 139.65 292.06 140.10 295.04 140.55 293.87 141.00 292.80 141.45 294.76 141.90 295.32 142.35 291.93 142.80 294.43 143.25 294.44 143.70 292.50 144.15 295.52 144.60 295.44 145.05 297.52 145.50 292.10 145.95 296.90 146.40 295.17 146.85 290.67 147.30 292.61 147.75 288.89 148.20 287.92 148.65 287.43 149.10 285.60 149.55 280.87 150.00 279.10 150.45 276.00 150.90 271.27 151.35 272.77 151.80 269.67 152.25 270.81 152.70 274.68 153.15 275.98 153.60 276.28 154.05 281.26 154.50 281.85 154.95 284.70 155.40 286.45 155.85 287.59 156.30 290.39 156.75 288.59 157.20 289.10 157.65 289.28 158.10 290.27 158.55 293.21 159.00 293.44 159.45 291.83 159.90 292.92 160.35 293.88 160.80 298.05 161.25 295.22 161.70 299.30 162.15 297.60 162.60 301.86 163.05 306.51 163.50 303.67 163.95 309.70 164.40 302.07 164.85 302.70 165.30 299.13 165.75 300.13 166.20 298.85 166.65 299.80 167.10 297.94 167.55 296.19 168.00 292.83 168.45 292.46 168.90 288.15 169.35 286.31 169.80 285.37 170.25 287.92 170.70 291.35 171.15 287.70 171.60 291.65 172.05 286.93 172.50 288.12 172.95 290.16 173.40 290.08 173.85 290.12 174.30 291.32 174.75 287.96 175.20 289.99 175.65 288.29 176.10 284.02 176.55 289.06 177.00 291.71 177.45 294.65 177.90 297.20 178.35 297.80 178.80 302.76 179.25 300.91 179.70 304.74 180.15 308.26 180.60 306.53 181.05 312.57 181.50 314.50 181.95 315.30 182.40 318.35 182.85 319.17 183.30 316.77 183.75 316.33 184.20 312.46 184.65 306.74 185.10 304.11 185.55 305.54 186.00 299.24 186.45 302.61 186.90 305.83 187.35 308.39 187.80 312.32 188.25 311.37 188.70 317.51 189.15 312.00 189.60 313.40 190.05 313.97 190.50 312.27 190.95 313.84 191.40 312.92 191.85 311.99 192.30 310.17 192.75 310.24 193.20 312.62 193.65 311.45 194.10 312.51 194.55 312.81 195.00 312.88 195.45 310.60 195.90 309.18 196.35 307.18 196.80 305.71 197.25 301.75 197.70 296.76 198.15 293.10 198.60 291.95 199.05 285.04 199.50 286.43 199.95 288.79 200.40 285.47 200.85 283.32 201.30 285.05 201.75 276.64 202.20 279.58 202.65 278.14 203.10 278.93 203.55 282.23 204.00 284.12 204.45 283.59 204.90 281.31 205.35 279.42 205.80 277.04 206.25 278.45 206.70 278.45 207.15 283.23 207.60 283.60 208.05 280.20 208.50 279.71 208.95 274.00 209.40 279.11 209.85 281.70 210.30 288.66 210.75 289.46 211.20 291.98 211.65 292.93 212.10 296.77 212.55 298.46 213.00 302.21 213.45 310.51 213.90 304.62 214.35 304.37 214.80 301.44 215.25 303.47 215.70 297.66 216.15 295.86 216.60 295.90 217.05 296.06 217.50 291.44 217.95 287.92 218.40 283.15 218.85 281.01 219.30 286.95 219.75 286.87 220.20 288.32 220.65 286.34 221.10 284.33 221.55 286.31 222.00 286.36 222.45 281.45 222.90 283.16 223.35 281.38 223.80 275.69 224.25 275.77 224.70 272.48 225.15 272.30 225.60 269.56 226.05 261.26 226.50 263.55 226.95 267.28 227.40 266.69 227.85 264.92 228.30 266.81 228.75 266.72" stroke="#707070" stroke-width="0.6" fill="none" stroke-linejoin="round"/>
<path clip-path="url(#clipc)" d="M68.50 283.29 68.95 285.25 69.40 283.32 69.85 283.10 70.30 277.75 70.75 281.77 71.20 278.21 71.65 269.36 72.10 262.88 72.55 256.93 73.00 252.16 73.45 250.28 73.90 248.44 74.35 250.15 74.80 255.03 75.25 261.53 75.70 257.26 76.15 251.50 76.60 257.29 77.05 264.20 77.50 273.01 77.95 282.13 78.40 287.12 78.85 286.64 79.30 282.48 79.75 278.36 80.20 270.66 80.65 265.76 81.10 264.15 81.55 254.03 82.00 249.14 82.45 244.87 82.90 238.99 83.35 235.76 83.80 239.18 84.25 240.35 84.70 237.08 85.15 245.15 85.60 250.46 86.05 248.03 86.50 249.51 86.95 250.96 87.40 245.53 87.85 247.05 88.30 247.62 88.75 257.39 89.20 264.40 89.65 268.09 90.10 270.99 90.55 270.96 91.00 272.09 91.45 273.18 91.90 273.58 92.35 273.40 92.80 274.45 93.25 278.96 93.70 285.10 94.15 297.42 94.60 302.86 95.05 293.22 95.50 287.68 95.95 280.01 96.40 270.65 96.85 262.39 97.30 262.55 97.75 264.20 98.20 267.77 98.65 269.14 99.10 269.41 99.55 268.52 100.00 269.41 100.45 271.11 100.90 278.03 101.35 289.09 101.80 303.45 102.25 316.10 102.70 311.34 103.15 308.74 103.60 301.79 104.05 299.38 104.50 296.69 104.95 298.44 105.40 296.05 105.85 294.61 106.30 294.39 106.75 287.30 107.20 288.17 107.65 286.36 108.10 285.02 108.55 276.60 109.00 275.12 109.45 270.43 109.90 280.75 110.35 280.28 110.80 284.10 111.25 283.14 111.70 288.81 112.15 289.68 112.60 289.02 113.05 289.77 113.50 289.13 113.95 287.95 114.40 284.64 114.85 290.05 115.30 285.73 115.75 284.68 116.20 283.30 116.65 279.56 117.10 276.95 117.55 275.38 118.00 270.66 118.45 271.12 118.90 264.94 119.35 265.52 119.80 262.52 120.25 266.66 120.70 269.07 121.15 271.97 121.60 273.56 122.05 271.22 122.50 274.65 122.95 282.19 123.40 280.69 123.85 280.93 124.30 287.21 124.75 286.39 125.20 282.77 125.65 284.40 126.10 288.75 126.55 282.98 127.00 280.06 127.45 277.68 127.90 278.72 128.35 269.60 128.80 271.21 129.25 267.93 129.70 271.59 130.15 275.77 130.60 277.88 131.05 282.68 131.50 286.00 131.95 293.93 132.40 292.48 132.85 303.53 133.30 310.54 133.75 314.01 134.20 320.36 134.65 315.96 135.10 308.64 135.55 309.14 136.00 308.66 136.45 307.71 136.90 308.52 137.35 314.04 137.80 316.05 138.25 312.07 138.70 312.21 139.15 314.15 139.60 312.56 140.05 306.63 140.50 305.98 140.95 308.79 141.40 303.74 141.85 299.28 142.30 295.21 142.75 293.00 143.20 291.25 143.65 283.05 144.10 288.70 144.55 283.68 145.00 281.62 145.45 281.80 145.90 276.72 146.35 272.38 146.80 270.13 147.25 264.59 147.70 263.11 148.15 260.07 148.60 269.45 149.05 269.52 149.50 277.48 149.95 283.77 150.40 293.86 150.85 296.47 151.30 303.14 151.75 309.66 152.20 312.38 152.65 312.40 153.10 317.96 153.55 318.22 154.00 315.50 154.45 315.48 154.90 313.55 155.35 305.05 155.80 308.98 156.25 312.60 156.70 301.36 157.15 298.79 157.60 296.84 158.05 295.74 158.50 300.24 158.95 304.22 159.40 312.27 159.85 310.88 160.30 314.53 160.75 309.17 161.20 303.86 161.65 300.74 162.10 296.03 162.55 297.74 163.00 290.53 163.45 283.37 163.90 281.32 164.35 280.66 164.80 271.58 165.25 269.28 165.70 268.33 166.15 265.22 166.60 263.21 167.05 271.36 167.50 264.29 167.95 273.41 168.40 272.08 168.85 271.26 169.30 267.80 169.75 269.07 170.20 266.18 170.65 259.25 171.10 252.31 171.55 250.27 172.00 252.98 172.45 253.69 172.90 254.82 173.35 263.25 173.80 264.33 174.25 263.47 174.70 267.00 175.15 272.38 175.60 274.11 176.05 279.09 176.50 280.97 176.95 280.74 177.40 279.04 177.85 277.34 178.30 271.40 178.75 271.15 179.20 276.10 179.65 272.77 180.10 277.30 180.55 280.83 181.00 285.20 181.45 282.25 181.90 288.20 182.35 288.88 182.80 293.97 183.25 294.26 183.70 290.43 184.15 292.41 184.60 296.25 185.05 302.28 185.50 299.28 185.95 303.87 186.40 298.06 186.85 295.91 187.30 299.10 187.75 296.01 188.20 295.19 188.65 302.26 189.10 302.90 189.55 302.23 190.00 310.41 190.45 312.97" stroke="#ff0000" stroke-width="0.75" fill="none" stroke-linejoin="round"/>
<path clip-path="url(#clipd)" d="M287.50 354.40 287.95 354.09 288.40 353.09 288.85 353.70 289.30 352.13 289.75 350.69 290.20 354.41 290.65 353.15 291.10 350.58 291.55 351.91 292.00 352.62 292.45 353.90 292.90 355.21 293.35 354.31 293.80 353.72 294.25 354.10 294.70 352.73 295.15 352.57 295.60 351.02 296.05 349.81 296.50 352.28 296.95 350.67 297.40 351.31 297.85 350.68 298.30 350.89 298.75 351.26 299.20 352.12 299.65 352.29 300.10 351.10 300.55 349.44 301.00 352.98 301.45 350.72 301.90 350.73 302.35 348.99 302.80 349.21 303.25 350.05 303.70 347.36 304.15 348.23 304.60 349.17 305.05 351.04 305.50 348.48 305.95 346.52 306.40 345.97 306.85 348.03 307.30 345.71 307.75 346.34 308.20 349.00 308.65 347.02 309.10 346.68 309.55 346.33 310.00 348.77 310.45 348.88 310.90 346.60 311.35 345.45 311.80 346.53 312.25 347.83 312.70 346.47 313.15 344.29 313.60 345.65 314.05 345.78 314.50 345.27 314.95 345.93 315.40 346.20 315.85 346.10 316.30 346.37 316.75 345.93 317.20 345.56 317.65 344.41 318.10 346.24 318.55 345.73 319.00 344.70 319.45 345.00 319.90 344.81 320.35 344.15 320.80 345.42 321.25 345.09 321.70 345.45 322.15 343.62 322.60 345.56 323.05 346.84 323.50 346.02 323.95 344.79 324.40 343.26 324.85 343.63 325.30 345.26 325.75 342.34 326.20 343.51 326.65 341.15 327.10 342.22 327.55 339.89 328.00 340.31 328.45 340.02 328.90 339.39 329.35 337.10 329.80 337.15 330.25 335.96 330.70 336.16 331.15 335.34 331.60 334.81 332.05 335.32 332.50 333.39 332.95 333.56 333.40 333.69 333.85 333.96 334.30 333.24 334.75 334.58 335.20 332.72 335.65 336.01 336.10 334.35 336.55 335.82 337.00 333.56 337.45 334.63 337.90 335.35 338.35 337.38 338.80 335.65 339.25 336.75 339.70 333.93 340.15 336.20 340.60 334.13 341.05 333.26 341.50 333.38 341.95 336.10 342.40 335.97 342.85 336.82 343.30 336.50 343.75 336.78 344.20 337.70 344.65 335.36 345.10 335.55 345.55 334.49 346.00 332.68 346.45 333.71 346.90 334.91 347.35 331.59 347.80 334.27 348.25 331.59 348.70 331.47 349.15 332.92 349.60 332.83 350.05 333.78 350.50 336.13 350.95 334.44 351.40 334.96 351.85 333.70 352.30 335.01 352.75 338.13 353.20 335.97 353.65 333.51 354.10 332.59 354.55 335.27 355.00 335.54 355.45 334.21 355.90 336.47 356.35 335.58 356.80 336.03 357.25 335.80 357.70 335.57 358.15 333.26 358.60 332.38 359.05 334.04 359.50 331.58 359.95 329.34 360.40 330.03 360.85 328.05 361.30 327.87 361.75 330.15 362.20 328.18 362.65 325.28 363.10 323.97 363.55 324.86 364.00 323.37 364.45 324.23 364.90 323.77 365.35 323.57 365.80 322.24 366.25 320.11 366.70 320.87 367.15 320.24 367.60 319.03 368.05 318.73 368.50 314.88 368.95 314.39 369.40 312.44 369.85 310.70 370.30 310.86 370.75 308.01 371.20 309.73 371.65 303.94 372.10 307.44 372.55 304.63 373.00 302.63 373.45 303.43 373.90 302.77 374.35 303.10 374.80 302.80 375.25 299.97 375.70 300.88 376.15 302.15 376.60 302.89 377.05 303.20 377.50 305.96 377.95 304.65 378.40 300.61 378.85 300.12 379.30 297.39 379.75 295.55 380.20 294.99 380.65 292.98 381.10 293.36 381.55 295.56 382.00 298.11 382.45 299.61 382.90 304.38 383.35 309.65 383.80 310.90 384.25 311.91 384.70 312.61 385.15 315.31 385.60 314.74 386.05 317.68 386.50 317.27 386.95 318.66 387.40 318.51 387.85 317.30 388.30 316.49 388.75 318.22 389.20 316.25 389.65 316.78 390.10 316.46 390.55 314.54 391.00 319.62 391.45 320.53 391.90 321.11 392.35 321.97 392.80 322.78 393.25 325.27 393.70 329.59 394.15 327.78 394.60 323.88 395.05 322.44 395.50 325.89 395.95 324.54 396.40 325.32 396.85 320.00 397.30 318.09 397.75 316.32 398.20 315.42 398.65 316.05 399.10 315.92 399.55 313.52 400.00 313.77 400.45 313.46 400.90 313.34 401.35 314.77 401.80 314.60 402.25 313.07 402.70 313.10 403.15 309.25 403.60 308.43 404.05 304.17 404.50 304.17 404.95 304.26 405.40 306.60 405.85 303.64 406.30 301.75 406.75 298.92 407.20 295.69 407.65 295.95 408.10 293.14 408.55 293.71 409.00 292.93 409.45 290.86 409.90 289.51 410.35 290.71 410.80 289.66 411.25 290.19 411.70 291.03 412.15 292.65 412.60 296.28 413.05 302.96 413.50 312.66 413.95 314.60 414.40 310.88 414.85 310.96 415.30 312.32 415.75 311.83 416.20 311.44 416.65 313.75 417.10 314.54 417.55 318.02 418.00 318.74 418.45 319.15 418.90 319.54 419.35 317.37 419.80 319.61 420.25 321.33 420.70 322.77 421.15 323.91 421.60 326.23 422.05 329.79 422.50 330.78 422.95 331.19 423.40 332.86 423.85 329.19 424.30 316.47 424.75 303.17 425.20 300.35 425.65 296.64 426.10 297.23 426.55 299.91 427.00 301.31 427.45 299.67 427.90 300.43 428.35 299.65 428.80 296.73 429.25 292.15 429.70 289.58 430.15 290.59 430.60 289.25 431.05 286.54 431.50 284.69 431.95 286.92 432.40 285.95 432.85 288.64 433.30 289.79 433.75 290.35 434.20 287.79 434.65 283.36 435.10 285.59 435.55 282.33 436.00 277.31 436.45 275.65 436.90 275.97 437.35 273.99 437.80 277.27 438.25 276.13 438.70 276.88 439.15 282.26 439.60 284.28 440.05 283.77 440.50 286.49 440.95 285.70 441.40 286.47 441.85 286.61 442.30 288.56 442.75 290.93 443.20 292.81 443.65 294.42 444.10 293.26 444.55 291.08 445.00 288.91 445.45 288.87 445.90 287.09 446.35 284.36 446.80 284.89 447.25 288.05 447.70 288.51 448.15 288.60 448.60 289.17 449.05 289.64 449.50 286.98 449.95 284.87 450.40 286.49 450.85 288.73 451.30 291.97 451.75 291.63 452.20 290.41 452.65 293.28 453.10 292.25 453.55 294.27 454.00 296.05 454.45 295.86 454.90 296.69 455.35 294.99 455.80 289.61 456.25 288.54 456.70 284.41 457.15 277.55 457.60 270.97 458.05 274.50 458.50 275.10 458.95 276.86 459.40 277.80 459.85 282.01 460.30 281.98 460.75 286.76 461.20 289.70 461.65 293.22 462.10 289.81 462.55 291.57 463.00 293.28 463.45 292.01 463.90 287.83 464.35 282.30 464.80 273.10 465.25 262.06 465.70 251.38 466.15 252.35 466.60 251.06 467.05 251.63 467.50 249.92 467.95 249.78 468.40 248.61 468.85 251.02 469.30 256.61 469.75 259.57 470.20 264.20 470.65 266.37 471.10 269.31 471.55 270.91 472.00 269.09 472.45 271.52 472.90 274.08 473.35 273.21 473.80 271.97 474.25 271.12 474.70 271.25 475.15 272.70 475.60 276.19 476.05 281.97 476.50 284.21 476.95 288.71 477.40 300.53 477.85 318.50 478.30 309.07 478.75 301.89 479.20 296.38 479.65 294.90 480.10 295.36 480.55 294.25 481.00 292.62 481.45 291.06 481.90 286.77 482.35 283.98 482.80 281.22 483.25 280.29 483.70 277.89 484.15 277.06 484.60 276.60 485.05 275.40 485.50 272.73 485.95 270.84 486.40 268.96 486.85 268.52 487.30 266.25 487.75 263.40 488.20 259.97 488.65 257.80" stroke="#707070" stroke-width="0.6" fill="none" stroke-linejoin="round"/>
<path clip-path="url(#clipd)" d="M330.20 328.67 330.65 324.21 331.10 326.65 331.55 325.57 332.00 317.71 332.45 318.12 332.90 320.24 333.35 318.24 333.80 319.58 334.25 319.27 334.70 325.93 335.15 330.21 335.60 324.15 336.05 317.48 336.50 309.81 336.95 302.07 337.40 299.95 337.85 295.89 338.30 301.73 338.75 301.49 339.20 302.99 339.65 302.58 340.10 306.54 340.55 303.29 341.00 308.70 341.45 322.69 341.90 333.57 342.35 340.55 342.80 340.21 343.25 339.80 343.70 343.11 344.15 337.06 344.60 336.37 345.05 334.79 345.50 337.02 345.95 337.23 346.40 333.57 346.85 331.05 347.30 330.61 347.75 333.43 348.20 333.22 348.65 333.08 349.10 332.16 349.55 333.90 350.00 331.83 350.45 330.23 350.90 329.85 351.35 326.60 351.80 325.98 352.25 323.26 352.70 322.36 353.15 321.50 353.60 313.42 354.05 312.43 354.50 308.62 354.95 305.68 355.40 304.65 355.85 306.71 356.30 301.35 356.75 311.01 357.20 306.96 357.65 306.93 358.10 305.02 358.55 303.72 359.00 307.91 359.45 312.00 359.90 313.40 360.35 316.17 360.80 321.38 361.25 321.38 361.70 320.92 362.15 321.79 362.60 322.83 363.05 323.35 363.50 317.46 363.95 313.55 364.40 305.97 364.85 303.70 365.30 304.28 365.75 301.77 366.20 303.00 366.65 301.84 367.10 303.79 367.55 305.04 368.00 304.80 368.45 310.36 368.90 310.11 369.35 313.70 369.80 322.55 370.25 327.99 370.70 329.40 371.15 328.65 371.60 328.87 372.05 330.92 372.50 328.68 372.95 330.50 373.40 330.88 373.85 330.21 374.30 331.91 374.75 327.41 375.20 325.01 375.65 325.13 376.10 317.88 376.55 316.52 377.00 309.08 377.45 308.41 377.90 304.93 378.35 303.63 378.80 302.94 379.25 294.02 379.70 295.54 380.15 292.32 380.60 291.35 381.05 290.33 381.50 295.49 381.95 296.46 382.40 301.27 382.85 304.99 383.30 312.03 383.75 309.38 384.20 309.05 384.65 316.32 385.10 321.03 385.55 324.57 386.00 321.57 386.45 318.36 386.90 318.00 387.35 309.31 387.80 307.12 388.25 303.09 388.70 300.90 389.15 295.37 389.60 296.44 390.05 291.33 390.50 285.64 390.95 283.69 391.40 278.05 391.85 274.19 392.30 280.17 392.75 284.49 393.20 280.38 393.65 280.08 394.10 284.17 394.55 298.68 395.00 297.98 395.45 300.53 395.90 301.28 396.35 303.27 396.80 307.27 397.25 307.11 397.70 308.88 398.15 311.59 398.60 314.82 399.05 319.28 399.50 322.07 399.95 330.69 400.40 331.33 400.85 334.30 401.30 328.74 401.75 324.78 402.20 321.53 402.65 318.32 403.10 319.38 403.55 305.84 404.00 299.12 404.45 285.93 404.90 287.63 405.35 283.99 405.80 279.56 406.25 276.57 406.70 270.17 407.15 268.50 407.60 264.77 408.05 264.85 408.50 269.37 408.95 275.54 409.40 278.23 409.85 274.70 410.30 277.32 410.75 281.90 411.20 284.74 411.65 281.41 412.10 280.54 412.55 285.84 413.00 285.58 413.45 289.24 413.90 284.32 414.35 278.89 414.80 275.33 415.25 278.28 415.70 273.95 416.15 262.36 416.60 248.72 417.05 238.33 417.50 223.59 417.95 220.68 418.40 225.42 418.85 227.00 419.30 227.20 419.75 224.11 420.20 226.71 420.65 233.00 421.10 233.31 421.55 232.79 422.00 227.95 422.45 236.98 422.90 245.69 423.35 257.03 423.80 269.45 424.25 273.74 424.70 279.58 425.15 277.74 425.60 276.96 426.05 271.21 426.50 266.93 426.95 264.99 427.40 258.89 427.85 257.58 428.30 267.26 428.75 270.25 429.20 275.48 429.65 274.18 430.10 269.85 430.55 267.08 431.00 273.02 431.45 275.95 431.90 277.79 432.35 273.18 432.80 272.14 433.25 279.37 433.70 262.78 434.15 246.56 434.60 242.12 435.05 239.37 435.50 230.90 435.95 235.65 436.40 235.36 436.85 238.94 437.30 240.62 437.75 246.32 438.20 248.58 438.65 254.19 439.10 261.33 439.55 274.77 440.00 292.43 440.45 288.86 440.90 293.21 441.35 297.64 441.80 296.25 442.25 284.07 442.70 283.05 443.15 281.92 443.60 282.48 444.05 274.02 444.50 273.16 444.95 267.94 445.40 264.72 445.85 261.09 446.30 257.95 446.75 256.78 447.20 265.76 447.65 273.07 448.10 282.05 448.55 283.65 449.00 289.24 449.45 296.01 449.90 298.02" stroke="#ff0000" stroke-width="0.75" fill="none" stroke-linejoin="round"/>
<path d="M68.00 48.60V69.20M65.70 48.60h4.6M65.70 69.20h4.6" stroke="#9d5ae4" stroke-width="1.2" fill="none"/>
<rect x="65.95" y="55.95" width="4.1" height="4.1" fill="#8a2be2"/>
<path d="M79.90 47.40V64.40M77.60 47.40h4.6M77.60 64.40h4.6" stroke="#9d5ae4" stroke-width="1.2" fill="none"/>
<rect x="77.85" y="54.65" width="4.1" height="4.1" fill="#8a2be2"/>
<path d="M91.90 43.20V67.30M89.60 43.20h4.6M89.60 67.30h4.6" stroke="#9d5ae4" stroke-width="1.2" fill="none"/>
<rect x="89.85" y="54.65" width="4.1" height="4.1" fill="#8a2be2"/>
<path d="M103.70 54.40V73.40M101.40 54.40h4.6M101.40 73.40h4.6" stroke="#9d5ae4" stroke-width="1.2" fill="none"/>
<rect x="101.65" y="61.95" width="4.1" height="4.1" fill="#8a2be2"/>
<path d="M327.20 133.50V153.10M324.90 133.50h4.6M324.90 153.10h4.6" stroke="#9d5ae4" stroke-width="1.2" fill="none"/>
<rect x="325.15" y="140.45" width="4.1" height="4.1" fill="#8a2be2"/>
<path d="M339.00 141.10V160.40M336.70 141.10h4.6M336.70 160.40h4.6" stroke="#9d5ae4" stroke-width="1.2" fill="none"/>
<rect x="336.95" y="148.05" width="4.1" height="4.1" fill="#8a2be2"/>
<path d="M351.20 139.50V166.30M348.90 139.50h4.6M348.90 166.30h4.6" stroke="#9d5ae4" stroke-width="1.2" fill="none"/>
<rect x="349.15" y="150.45" width="4.1" height="4.1" fill="#8a2be2"/>
<path d="M362.90 133.50V166.30M360.60 133.50h4.6M360.60 166.30h4.6" stroke="#9d5ae4" stroke-width="1.2" fill="none"/>
<rect x="360.85" y="149.75" width="4.1" height="4.1" fill="#8a2be2"/>
<rect x="66.05" y="263.75" width="4.1" height="4.1" fill="#8a2be2"/>
<rect x="77.85" y="303.05" width="4.1" height="4.1" fill="#8a2be2"/>
<rect x="89.95" y="257.65" width="4.1" height="4.1" fill="#8a2be2"/>
<rect x="101.85" y="273.85" width="4.1" height="4.1" fill="#8a2be2"/>
<rect x="325.15" y="330.95" width="4.1" height="4.1" fill="#8a2be2"/>
<rect x="337.05" y="324.65" width="4.1" height="4.1" fill="#8a2be2"/>
<rect x="349.05" y="303.05" width="4.1" height="4.1" fill="#8a2be2"/>
<rect x="360.75" y="299.95" width="4.1" height="4.1" fill="#8a2be2"/>
<path d="M49.9 96.5H86.1M49.9 93.1V99.9M86.1 93.1V99.9" stroke="#ff3030" stroke-width="1.1" fill="none"/>
<text x="52.9" y="94.4" font-size="7" fill="#ff1010" style="stroke-width:0.15" textLength="31.2" lengthAdjust="spacingAndGlyphs" stroke="#ff1010">300 years</text>
<path d="M32 136.3H104M32 132.9V139.7M104 132.9V139.7" stroke="#2a2a2a" stroke-width="1.1" fill="none"/>
<text x="52.9" y="133.8" font-size="7" fill="#111" style="stroke-width:0.15" textLength="31.2" lengthAdjust="spacingAndGlyphs" stroke="#111">300 years</text>
<rect x="28.5" y="14.5" width="207.0" height="157.0" fill="none" stroke="#3a3a3a" stroke-width="0.7"/>
<path d="M28.50 171.5v2.45 M68.31 171.5v2.45 M108.12 171.5v2.45 M147.92 171.5v2.45 M187.73 171.5v2.45 M227.54 171.5v2.45 M28.5 155.80h-2.45 M28.5 116.55h-2.45 M28.5 77.30h-2.45 M28.5 38.05h-2.45" stroke="#3a3a3a" stroke-width="0.7" fill="none"/>
<text x="28.50" y="180.70" font-size="6.6" text-anchor="middle" fill="#1a1a1a" textLength="12.20" lengthAdjust="spacingAndGlyphs"  stroke="#1a1a1a">0.40</text>
<text x="68.31" y="180.70" font-size="6.6" text-anchor="middle" fill="#1a1a1a" textLength="12.20" lengthAdjust="spacingAndGlyphs"  stroke="#1a1a1a">0.45</text>
<text x="108.12" y="180.70" font-size="6.6" text-anchor="middle" fill="#1a1a1a" textLength="12.20" lengthAdjust="spacingAndGlyphs"  stroke="#1a1a1a">0.50</text>
<text x="147.92" y="180.70" font-size="6.6" text-anchor="middle" fill="#1a1a1a" textLength="12.20" lengthAdjust="spacingAndGlyphs"  stroke="#1a1a1a">0.55</text>
<text x="187.73" y="180.70" font-size="6.6" text-anchor="middle" fill="#1a1a1a" textLength="12.20" lengthAdjust="spacingAndGlyphs"  stroke="#1a1a1a">0.60</text>
<text x="227.54" y="180.70" font-size="6.6" text-anchor="middle" fill="#1a1a1a" textLength="12.20" lengthAdjust="spacingAndGlyphs"  stroke="#1a1a1a">0.65</text>
<text x="23.60" y="158.30" font-size="6.6" text-anchor="end" fill="#1a1a1a" textLength="3.50" lengthAdjust="spacingAndGlyphs"  stroke="#1a1a1a">0</text>
<text x="23.60" y="119.05" font-size="6.6" text-anchor="end" fill="#1a1a1a" textLength="3.50" lengthAdjust="spacingAndGlyphs"  stroke="#1a1a1a">5</text>
<text x="23.60" y="79.80" font-size="6.6" text-anchor="end" fill="#1a1a1a" textLength="7.00" lengthAdjust="spacingAndGlyphs"  stroke="#1a1a1a">10</text>
<text x="23.60" y="40.55" font-size="6.6" text-anchor="end" fill="#1a1a1a" textLength="7.00" lengthAdjust="spacingAndGlyphs"  stroke="#1a1a1a">15</text>
<text transform="translate(13.50,93.00) rotate(-90)" x="0" y="0" font-size="7" fill="#1a1a1a" text-anchor="middle" textLength="64.50" lengthAdjust="spacingAndGlyphs" stroke="#1a1a1a">Volume transport (Sv)</text>
<text x="86.90" y="188.80" font-size="7" fill="#1a1a1a" textLength="89.70" lengthAdjust="spacingAndGlyphs" stroke="#1a1a1a">Freshwater flux forcing, <tspan font-style="italic">F</tspan><tspan font-size="4.9" dy="1.4" font-style="italic">N</tspan><tspan dy="-1.4"> (Sv)</tspan></text>
<text x="86.90" y="10.80" font-size="7.1" textLength="90.30" lengthAdjust="spacingAndGlyphs" stroke="#000">a) AMOC strength at 26°N</text>
<rect x="287.5" y="14.5" width="207.0" height="157.0" fill="none" stroke="#3a3a3a" stroke-width="0.7"/>
<path d="M287.50 171.5v2.45 M327.31 171.5v2.45 M367.12 171.5v2.45 M406.92 171.5v2.45 M446.73 171.5v2.45 M486.54 171.5v2.45 M287.5 155.80h-2.45 M287.5 124.40h-2.45 M287.5 93.00h-2.45 M287.5 61.60h-2.45 M287.5 30.20h-2.45" stroke="#3a3a3a" stroke-width="0.7" fill="none"/>
<text x="287.50" y="180.70" font-size="6.6" text-anchor="middle" fill="#1a1a1a" textLength="12.20" lengthAdjust="spacingAndGlyphs"  stroke="#1a1a1a">0.40</text>
<text x="327.31" y="180.70" font-size="6.6" text-anchor="middle" fill="#1a1a1a" textLength="12.20" lengthAdjust="spacingAndGlyphs"  stroke="#1a1a1a">0.45</text>
<text x="367.12" y="180.70" font-size="6.6" text-anchor="middle" fill="#1a1a1a" textLength="12.20" lengthAdjust="spacingAndGlyphs"  stroke="#1a1a1a">0.50</text>
<text x="406.92" y="180.70" font-size="6.6" text-anchor="middle" fill="#1a1a1a" textLength="12.20" lengthAdjust="spacingAndGlyphs"  stroke="#1a1a1a">0.55</text>
<text x="446.73" y="180.70" font-size="6.6" text-anchor="middle" fill="#1a1a1a" textLength="12.20" lengthAdjust="spacingAndGlyphs"  stroke="#1a1a1a">0.60</text>
<text x="486.54" y="180.70" font-size="6.6" text-anchor="middle" fill="#1a1a1a" textLength="12.20" lengthAdjust="spacingAndGlyphs"  stroke="#1a1a1a">0.65</text>
<text x="282.60" y="158.30" font-size="6.6" text-anchor="end" fill="#1a1a1a" textLength="13.35" lengthAdjust="spacingAndGlyphs"  stroke="#1a1a1a">−0.2</text>
<text x="282.60" y="126.90" font-size="6.6" text-anchor="end" fill="#1a1a1a" textLength="13.35" lengthAdjust="spacingAndGlyphs"  stroke="#1a1a1a">−0.1</text>
<text x="282.60" y="95.50" font-size="6.6" text-anchor="end" fill="#1a1a1a" textLength="8.75" lengthAdjust="spacingAndGlyphs"  stroke="#1a1a1a">0.0</text>
<text x="282.60" y="64.10" font-size="6.6" text-anchor="end" fill="#1a1a1a" textLength="8.75" lengthAdjust="spacingAndGlyphs"  stroke="#1a1a1a">0.1</text>
<text x="282.60" y="32.70" font-size="6.6" text-anchor="end" fill="#1a1a1a" textLength="8.75" lengthAdjust="spacingAndGlyphs"  stroke="#1a1a1a">0.2</text>
<text transform="translate(265.60,93.00) rotate(-90)" x="0" y="0" font-size="7" fill="#1a1a1a" text-anchor="middle" textLength="74.50" lengthAdjust="spacingAndGlyphs" stroke="#1a1a1a">Freshwater transport (Sv)</text>
<text x="345.90" y="188.80" font-size="7" fill="#1a1a1a" textLength="89.70" lengthAdjust="spacingAndGlyphs" stroke="#1a1a1a">Freshwater flux forcing, <tspan font-style="italic">F</tspan><tspan font-size="4.9" dy="1.4" font-style="italic">N</tspan><tspan dy="-1.4"> (Sv)</tspan></text>
<text x="327.00" y="10.80" font-size="7.1" textLength="127.50" lengthAdjust="spacingAndGlyphs" stroke="#000">b) Freshwater transport at 34°S, <tspan font-style="italic">F</tspan><tspan font-size="5" dy="1.2">ovS</tspan></text>
<rect x="28.5" y="208.5" width="207.0" height="157.0" fill="none" stroke="#3a3a3a" stroke-width="0.7"/>
<path d="M28.50 365.5v2.45 M68.31 365.5v2.45 M108.12 365.5v2.45 M147.92 365.5v2.45 M187.73 365.5v2.45 M227.54 365.5v2.45 M28.5 365.50h-2.45 M28.5 339.33h-2.45 M28.5 313.17h-2.45 M28.5 287.00h-2.45 M28.5 260.83h-2.45 M28.5 234.67h-2.45 M28.5 208.50h-2.45" stroke="#3a3a3a" stroke-width="0.7" fill="none"/>
<text x="28.50" y="374.70" font-size="6.6" text-anchor="middle" fill="#1a1a1a" textLength="12.20" lengthAdjust="spacingAndGlyphs"  stroke="#1a1a1a">0.40</text>
<text x="68.31" y="374.70" font-size="6.6" text-anchor="middle" fill="#1a1a1a" textLength="12.20" lengthAdjust="spacingAndGlyphs"  stroke="#1a1a1a">0.45</text>
<text x="108.12" y="374.70" font-size="6.6" text-anchor="middle" fill="#1a1a1a" textLength="12.20" lengthAdjust="spacingAndGlyphs"  stroke="#1a1a1a">0.50</text>
<text x="147.92" y="374.70" font-size="6.6" text-anchor="middle" fill="#1a1a1a" textLength="12.20" lengthAdjust="spacingAndGlyphs"  stroke="#1a1a1a">0.55</text>
<text x="187.73" y="374.70" font-size="6.6" text-anchor="middle" fill="#1a1a1a" textLength="12.20" lengthAdjust="spacingAndGlyphs"  stroke="#1a1a1a">0.60</text>
<text x="227.54" y="374.70" font-size="6.6" text-anchor="middle" fill="#1a1a1a" textLength="12.20" lengthAdjust="spacingAndGlyphs"  stroke="#1a1a1a">0.65</text>
<text x="23.60" y="368.00" font-size="6.6" text-anchor="end" fill="#1a1a1a" textLength="8.75" lengthAdjust="spacingAndGlyphs"  stroke="#1a1a1a">0.0</text>
<text x="23.60" y="341.83" font-size="6.6" text-anchor="end" fill="#1a1a1a" textLength="8.75" lengthAdjust="spacingAndGlyphs"  stroke="#1a1a1a">0.1</text>
<text x="23.60" y="315.67" font-size="6.6" text-anchor="end" fill="#1a1a1a" textLength="8.75" lengthAdjust="spacingAndGlyphs"  stroke="#1a1a1a">0.2</text>
<text x="23.60" y="289.50" font-size="6.6" text-anchor="end" fill="#1a1a1a" textLength="8.75" lengthAdjust="spacingAndGlyphs"  stroke="#1a1a1a">0.3</text>
<text x="23.60" y="263.33" font-size="6.6" text-anchor="end" fill="#1a1a1a" textLength="8.75" lengthAdjust="spacingAndGlyphs"  stroke="#1a1a1a">0.4</text>
<text x="23.60" y="237.17" font-size="6.6" text-anchor="end" fill="#1a1a1a" textLength="8.75" lengthAdjust="spacingAndGlyphs"  stroke="#1a1a1a">0.5</text>
<text x="23.60" y="211.00" font-size="6.6" text-anchor="end" fill="#1a1a1a" textLength="8.75" lengthAdjust="spacingAndGlyphs"  stroke="#1a1a1a">0.6</text>
<text transform="translate(10.90,287.00) rotate(-90)" x="0" y="0" font-size="7" fill="#1a1a1a" text-anchor="middle" textLength="94.50" lengthAdjust="spacingAndGlyphs" stroke="#1a1a1a">Volume transport variance (Sv<tspan font-size="4.2" dy="-2">2</tspan><tspan dy="2">)</tspan></text>
<text x="86.90" y="382.80" font-size="7" fill="#1a1a1a" textLength="89.70" lengthAdjust="spacingAndGlyphs" stroke="#1a1a1a">Freshwater flux forcing, <tspan font-style="italic">F</tspan><tspan font-size="4.9" dy="1.4" font-style="italic">N</tspan><tspan dy="-1.4"> (Sv)</tspan></text>
<text x="83.80" y="204.80" font-size="7.1" textLength="95.60" lengthAdjust="spacingAndGlyphs" stroke="#000">c) AMOC strength, variance</text>
<rect x="287.5" y="208.5" width="207.0" height="157.0" fill="none" stroke="#3a3a3a" stroke-width="0.7"/>
<path d="M287.50 365.5v2.45 M327.31 365.5v2.45 M367.12 365.5v2.45 M406.92 365.5v2.45 M446.73 365.5v2.45 M486.54 365.5v2.45 M287.5 365.50h-2.45 M287.5 334.10h-2.45 M287.5 302.70h-2.45 M287.5 271.30h-2.45 M287.5 239.90h-2.45 M287.5 208.50h-2.45" stroke="#3a3a3a" stroke-width="0.7" fill="none"/>
<text x="287.50" y="374.70" font-size="6.6" text-anchor="middle" fill="#1a1a1a" textLength="12.20" lengthAdjust="spacingAndGlyphs"  stroke="#1a1a1a">0.40</text>
<text x="327.31" y="374.70" font-size="6.6" text-anchor="middle" fill="#1a1a1a" textLength="12.20" lengthAdjust="spacingAndGlyphs"  stroke="#1a1a1a">0.45</text>
<text x="367.12" y="374.70" font-size="6.6" text-anchor="middle" fill="#1a1a1a" textLength="12.20" lengthAdjust="spacingAndGlyphs"  stroke="#1a1a1a">0.50</text>
<text x="406.92" y="374.70" font-size="6.6" text-anchor="middle" fill="#1a1a1a" textLength="12.20" lengthAdjust="spacingAndGlyphs"  stroke="#1a1a1a">0.55</text>
<text x="446.73" y="374.70" font-size="6.6" text-anchor="middle" fill="#1a1a1a" textLength="12.20" lengthAdjust="spacingAndGlyphs"  stroke="#1a1a1a">0.60</text>
<text x="486.54" y="374.70" font-size="6.6" text-anchor="middle" fill="#1a1a1a" textLength="12.20" lengthAdjust="spacingAndGlyphs"  stroke="#1a1a1a">0.65</text>
<text x="282.60" y="368.00" font-size="6.6" text-anchor="end" fill="#1a1a1a" textLength="3.50" lengthAdjust="spacingAndGlyphs"  stroke="#1a1a1a">0</text>
<text x="282.60" y="336.60" font-size="6.6" text-anchor="end" fill="#1a1a1a" textLength="3.50" lengthAdjust="spacingAndGlyphs"  stroke="#1a1a1a">2</text>
<text x="282.60" y="305.20" font-size="6.6" text-anchor="end" fill="#1a1a1a" textLength="3.50" lengthAdjust="spacingAndGlyphs"  stroke="#1a1a1a">4</text>
<text x="282.60" y="273.80" font-size="6.6" text-anchor="end" fill="#1a1a1a" textLength="3.50" lengthAdjust="spacingAndGlyphs"  stroke="#1a1a1a">6</text>
<text x="282.60" y="242.40" font-size="6.6" text-anchor="end" fill="#1a1a1a" textLength="3.50" lengthAdjust="spacingAndGlyphs"  stroke="#1a1a1a">8</text>
<text x="282.60" y="211.00" font-size="6.6" text-anchor="end" fill="#1a1a1a" textLength="7.00" lengthAdjust="spacingAndGlyphs"  stroke="#1a1a1a">10</text>
<text transform="translate(271.00,287.00) rotate(-90)" x="0" y="0" font-size="7" fill="#1a1a1a" text-anchor="middle" textLength="126.00" lengthAdjust="spacingAndGlyphs" stroke="#1a1a1a">Freshwater transport variance (×10<tspan font-size="4.2" dy="-2">−4</tspan><tspan dy="2"> Sv</tspan><tspan font-size="4.2" dy="-2">2</tspan><tspan dy="2">)</tspan></text>
<text x="345.90" y="382.80" font-size="7" fill="#1a1a1a" textLength="89.70" lengthAdjust="spacingAndGlyphs" stroke="#1a1a1a">Freshwater flux forcing, <tspan font-style="italic">F</tspan><tspan font-size="4.9" dy="1.4" font-style="italic">N</tspan><tspan dy="-1.4"> (Sv)</tspan></text>
<text x="361.80" y="204.80" font-size="7.1" textLength="57.00" lengthAdjust="spacingAndGlyphs" stroke="#000">d) <tspan font-style="italic">F</tspan><tspan font-size="5" dy="1.2">ovS</tspan><tspan dy="-1.2">, variance</tspan></text>
<rect x="140.50" y="17.80" width="91.80" height="29.80" rx="1.4" fill="#fff" fill-opacity="0.8" stroke="#d0d0d0" stroke-width="0.7"/>
<path d="M142.2 22.9H154.6" stroke="#b4b4b4" stroke-width="1.9"/>
<path d="M142.2 32.9H154.6" stroke="#ff6a6a" stroke-width="1.9"/>
<path d="M148.40 38.90V45.50M146.10 38.90h4.6M146.10 45.50h4.6" stroke="#9d5fe6" stroke-width="1.2" fill="none"/>
<rect x="146.40" y="40.20" width="4" height="4" fill="#8a2be2"/>
<text x="159.00" y="25.30" font-size="6.6" fill="#1a1a1a" textLength="70.20" lengthAdjust="spacingAndGlyphs" stroke="#1a1a1a">∂<tspan font-size="4.6" dy="1.2">t</tspan><tspan dy="-1.2" font-style="italic">F</tspan><tspan font-size="4.6" dy="1.2" font-style="italic">H</tspan><tspan dy="-1.2"> = 3.0 × 10</tspan><tspan font-size="4.6" dy="-2.5">−4</tspan><tspan dy="2.5"> Sv yr</tspan><tspan font-size="4.6" dy="-2.5">−1</tspan></text>
<text x="159.00" y="35.30" font-size="6.6" fill="#1a1a1a" textLength="70.20" lengthAdjust="spacingAndGlyphs" stroke="#1a1a1a">∂<tspan font-size="4.6" dy="1.2">t</tspan><tspan dy="-1.2" font-style="italic">F</tspan><tspan font-size="4.6" dy="1.2" font-style="italic">H</tspan><tspan dy="-1.2"> = 1.5 × 10</tspan><tspan font-size="4.6" dy="-2.5">−4</tspan><tspan dy="2.5"> Sv yr</tspan><tspan font-size="4.6" dy="-2.5">−1</tspan></text>
<text x="159.00" y="44.80" font-size="6.6" fill="#1a1a1a" textLength="36" lengthAdjust="spacingAndGlyphs" stroke="#1a1a1a">Steady state</text>
<rect x="289.70" y="17.60" width="92.60" height="29.80" rx="1.4" fill="#fff" fill-opacity="0.8" stroke="#d0d0d0" stroke-width="0.7"/>
<path d="M292.1 23.2H304.5" stroke="#b4b4b4" stroke-width="1.9"/>
<path d="M292.1 33.1H304.5" stroke="#ff6a6a" stroke-width="1.9"/>
<path d="M298.30 39.10V45.70M296.00 39.10h4.6M296.00 45.70h4.6" stroke="#9d5fe6" stroke-width="1.2" fill="none"/>
<rect x="296.30" y="40.40" width="4" height="4" fill="#8a2be2"/>
<text x="308.60" y="25.60" font-size="6.6" fill="#1a1a1a" textLength="70.20" lengthAdjust="spacingAndGlyphs" stroke="#1a1a1a">∂<tspan font-size="4.6" dy="1.2">t</tspan><tspan dy="-1.2" font-style="italic">F</tspan><tspan font-size="4.6" dy="1.2" >H</tspan><tspan dy="-1.2"> = 3.0 × 10</tspan><tspan font-size="4.6" dy="-2.5">−4</tspan><tspan dy="2.5"> Sv yr</tspan><tspan font-size="4.6" dy="-2.5">−1</tspan></text>
<text x="308.60" y="35.50" font-size="6.6" fill="#1a1a1a" textLength="70.20" lengthAdjust="spacingAndGlyphs" stroke="#1a1a1a">∂<tspan font-size="4.6" dy="1.2">t</tspan><tspan dy="-1.2" font-style="italic">F</tspan><tspan font-size="4.6" dy="1.2" >H</tspan><tspan dy="-1.2"> = 1.5 × 10</tspan><tspan font-size="4.6" dy="-2.5">−4</tspan><tspan dy="2.5"> Sv yr</tspan><tspan font-size="4.6" dy="-2.5">−1</tspan></text>
<text x="308.60" y="45.00" font-size="6.6" fill="#1a1a1a" textLength="36" lengthAdjust="spacingAndGlyphs" stroke="#1a1a1a">Steady state</text>
<rect x="140.40" y="332.30" width="91.90" height="30.00" rx="1.4" fill="#fff" fill-opacity="0.8" stroke="#d0d0d0" stroke-width="0.7"/>
<path d="M142.2 337.9H154.6" stroke="#b4b4b4" stroke-width="1.9"/>
<path d="M142.2 347.8H154.6" stroke="#ff6a6a" stroke-width="1.9"/>
<rect x="146.40" y="355.40" width="4" height="4" fill="#8a2be2"/>
<text x="159.00" y="340.30" font-size="6.6" fill="#1a1a1a" textLength="70.20" lengthAdjust="spacingAndGlyphs" stroke="#1a1a1a">∂<tspan font-size="4.6" dy="1.2">t</tspan><tspan dy="-1.2" font-style="italic">F</tspan><tspan font-size="4.6" dy="1.2" font-style="italic">H</tspan><tspan dy="-1.2"> = 3.0 × 10</tspan><tspan font-size="4.6" dy="-2.5">−4</tspan><tspan dy="2.5"> Sv yr</tspan><tspan font-size="4.6" dy="-2.5">−1</tspan></text>
<text x="159.00" y="350.20" font-size="6.6" fill="#1a1a1a" textLength="70.20" lengthAdjust="spacingAndGlyphs" stroke="#1a1a1a">∂<tspan font-size="4.6" dy="1.2">t</tspan><tspan dy="-1.2" font-style="italic">F</tspan><tspan font-size="4.6" dy="1.2" font-style="italic">H</tspan><tspan dy="-1.2"> = 1.5 × 10</tspan><tspan font-size="4.6" dy="-2.5">−4</tspan><tspan dy="2.5"> Sv yr</tspan><tspan font-size="4.6" dy="-2.5">−1</tspan></text>
<text x="159.00" y="360.00" font-size="6.6" fill="#1a1a1a" textLength="36" lengthAdjust="spacingAndGlyphs" stroke="#1a1a1a">Steady state</text>
<rect x="290.00" y="211.60" width="92.30" height="30.30" rx="1.4" fill="#fff" fill-opacity="0.8" stroke="#d0d0d0" stroke-width="0.7"/>
<path d="M292.3 217.3H304.6" stroke="#9a9a9a" stroke-width="1.3"/>
<path d="M292.3 227.1H304.6" stroke="#ff3a3a" stroke-width="1.3"/>
<rect x="296.45" y="234.90" width="4" height="4" fill="#8a2be2"/>
<text x="308.80" y="219.70" font-size="6.6" fill="#1a1a1a" textLength="70.20" lengthAdjust="spacingAndGlyphs" stroke="#1a1a1a">∂<tspan font-size="4.6" dy="1.2">t</tspan><tspan dy="-1.2" font-style="italic">F</tspan><tspan font-size="4.6" dy="1.2" >H</tspan><tspan dy="-1.2"> = 3.0 × 10</tspan><tspan font-size="4.6" dy="-2.5">−4</tspan><tspan dy="2.5"> Sv yr</tspan><tspan font-size="4.6" dy="-2.5">−1</tspan></text>
<text x="308.80" y="229.50" font-size="6.6" fill="#1a1a1a" textLength="70.20" lengthAdjust="spacingAndGlyphs" stroke="#1a1a1a">∂<tspan font-size="4.6" dy="1.2">t</tspan><tspan dy="-1.2" font-style="italic">F</tspan><tspan font-size="4.6" dy="1.2" >H</tspan><tspan dy="-1.2"> = 1.5 × 10</tspan><tspan font-size="4.6" dy="-2.5">−4</tspan><tspan dy="2.5"> Sv yr</tspan><tspan font-size="4.6" dy="-2.5">−1</tspan></text>
<text x="308.80" y="239.50" font-size="6.6" fill="#1a1a1a" textLength="36" lengthAdjust="spacingAndGlyphs" stroke="#1a1a1a">Steady state</text>
</svg></body></html>
